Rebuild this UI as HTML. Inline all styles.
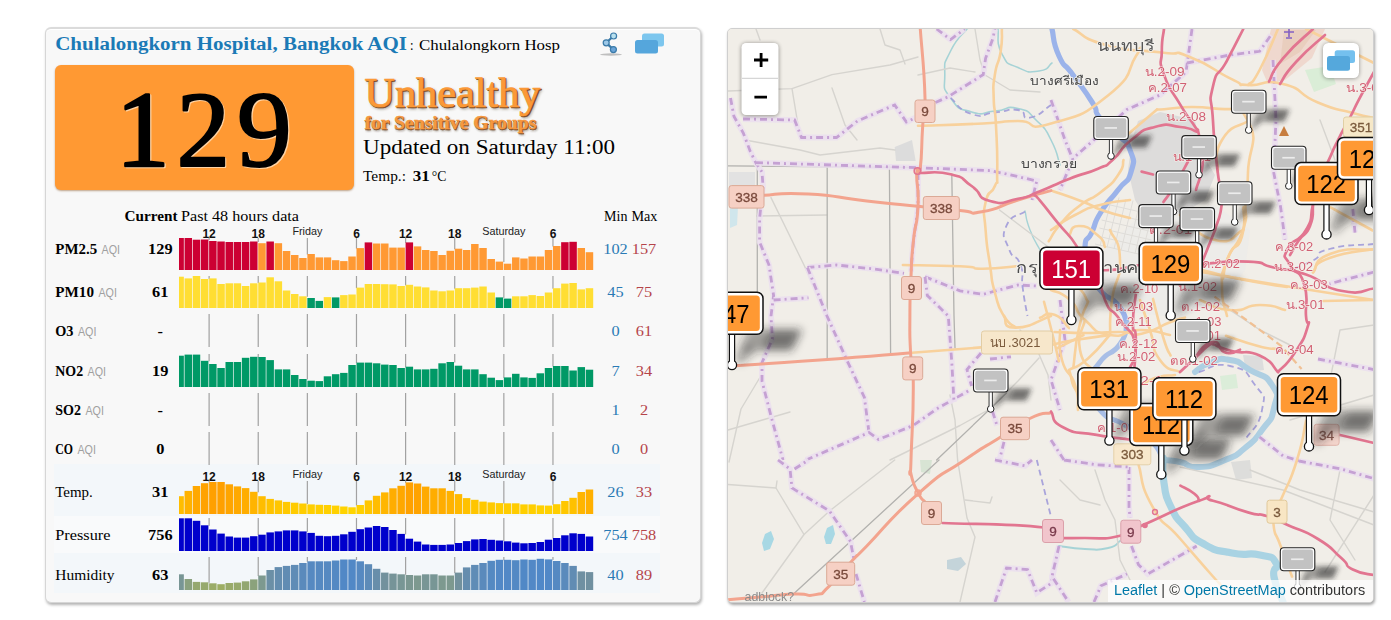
<!DOCTYPE html>
<html><head><meta charset="utf-8"><title>AQI</title>
<style>
html,body{margin:0;padding:0;background:#fff;}
body{width:1391px;height:620px;position:relative;overflow:hidden;font-family:"Liberation Serif",serif;color:#000;}
#panel{position:absolute;left:45px;top:27px;width:654px;height:573px;background:#f8f8f8;border:1px solid #d6d6d6;border-top:2px solid #dbdbdb;border-radius:6px;box-shadow:1px 2px 3px rgba(0,0,0,.3), inset 0 1px 0 #fff;}
#big{position:absolute;left:55px;top:65px;width:299px;height:125px;background:#ff9933;border-radius:6px;box-shadow:0 1px 2px rgba(120,60,0,.45);}
.stripe{position:absolute;left:54px;width:606px;}
.tnum{font-family:"Liberation Sans",sans-serif;font-size:12px;font-weight:bold;text-anchor:middle;fill:#111;}
.tday{font-family:"Liberation Sans",sans-serif;font-size:10.8px;text-anchor:middle;fill:#222;}
#map{position:absolute;left:727px;top:28px;width:644.5px;height:573px;border:1px solid #cfcfcf;border-radius:5px;overflow:hidden;background:#f1eee8;box-shadow:1px 2px 3px rgba(0,0,0,.35);}
</style></head><body>
<div id="panel"></div>
<div class="stripe" style="top:464px;height:52px;background:#f3f7fa"></div>
<div class="stripe" style="top:516px;height:37px;background:#f9fafb"></div>
<div class="stripe" style="top:553px;height:40px;background:#f3f7fa"></div>
<div id="big"></div>
<svg style="position:absolute;left:0;top:0" width="720" height="620" viewBox="0 0 720 620">
<defs><filter id="tb1" x="-5%" y="-30%" width="110%" height="160%"><feGaussianBlur stdDeviation="1.1"/></filter>
<filter id="tb2" x="-5%" y="-30%" width="110%" height="160%"><feGaussianBlur stdDeviation="1.4"/></filter></defs>
 <ellipse cx="611" cy="54.5" rx="11" ry="1.2" fill="#999" opacity=".6"/>
 <path d="M613.6 36 L606.2 42.8 L613.4 49.6" fill="none" stroke="#3a7aa8" stroke-width="2.2"/>
 <circle cx="613.6" cy="36" r="3" fill="#b8e0ee" stroke="#3a7aa8" stroke-width="1.2"/>
 <circle cx="606.2" cy="42.8" r="3" fill="#9cc8e8" stroke="#3a7aa8" stroke-width="1.2"/>
 <circle cx="613.4" cy="49.6" r="3" fill="#6aa4d8" stroke="#3a7aa8" stroke-width="1.2"/>
 <rect x="642" y="33.5" width="22" height="13" rx="2.5" fill="#7cc6ee"/>
 <rect x="635" y="40" width="23" height="13.5" rx="2.5" fill="#55a6dc"/>
<text transform="translate(144.1 167.3) scale(1.0 1)" text-anchor="middle" font-size="107.2" fill="#ffe2c0" stroke="#ffe2c0" stroke-width="2.6" stroke-linejoin="round" opacity="0.8" style="font-family:'Liberation Serif',serif">1</text><text transform="translate(204.4 167.3) scale(1.0 1)" text-anchor="middle" font-size="107.2" fill="#ffe2c0" stroke="#ffe2c0" stroke-width="2.0" stroke-linejoin="round" opacity="0.8" style="font-family:'Liberation Serif',serif">2</text><text transform="translate(265.6 167.3) scale(1.02 1)" text-anchor="middle" font-size="107.2" fill="#ffe2c0" stroke="#ffe2c0" stroke-width="2.0" stroke-linejoin="round" opacity="0.8" style="font-family:'Liberation Serif',serif">9</text><text transform="translate(142.9 166.2) scale(1.0 1)" text-anchor="middle" font-size="107.2" fill="#000" stroke="#000" stroke-width="2.6" stroke-linejoin="round" opacity="1" style="font-family:'Liberation Serif',serif">1</text><text transform="translate(203.2 166.2) scale(1.0 1)" text-anchor="middle" font-size="107.2" fill="#000" stroke="#000" stroke-width="2.0" stroke-linejoin="round" opacity="1" style="font-family:'Liberation Serif',serif">2</text><text transform="translate(264.4 166.2) scale(1.02 1)" text-anchor="middle" font-size="107.2" fill="#000" stroke="#000" stroke-width="2.0" stroke-linejoin="round" opacity="1" style="font-family:'Liberation Serif',serif">9</text>
<g font-family="Liberation Serif" font-size="41.2"><text x="366.3" y="109" textLength="176" lengthAdjust="spacingAndGlyphs" fill="#3a2a1a" opacity=".55" filter="url(#tb2)">Unhealthy</text><text x="365.6" y="108.1" textLength="176" lengthAdjust="spacingAndGlyphs" fill="#7c4c24" stroke="#7c4c24" stroke-width=".7">Unhealthy</text><text x="364.4" y="107" textLength="176" lengthAdjust="spacingAndGlyphs" fill="#fb9937" stroke="#fb9937" stroke-width=".7">Unhealthy</text></g><g font-family="Liberation Serif" font-size="18" font-weight="bold"><text x="365.8" y="130.6" textLength="172" lengthAdjust="spacingAndGlyphs" fill="#3a2a1a" opacity=".6" filter="url(#tb1)">for Sensitive Groups</text><text x="365.1" y="129.7" textLength="172" lengthAdjust="spacingAndGlyphs" fill="#7c4c26" opacity=".95" stroke="#7c4c26" stroke-width=".4">for Sensitive Groups</text><text x="364.4" y="129" textLength="172" lengthAdjust="spacingAndGlyphs" fill="#f5983f" stroke="#f5983f" stroke-width=".35">for Sensitive Groups</text></g>
<rect x="208.51" y="238" width="1.2" height="2.00" fill="#a2a2a2"/><rect x="257.63" y="238" width="1.2" height="4.00" fill="#a2a2a2"/><rect x="306.75" y="238" width="1.2" height="16.50" fill="#a2a2a2"/><rect x="355.88" y="238" width="1.2" height="10.60" fill="#a2a2a2"/><rect x="405.00" y="238" width="1.2" height="4.90" fill="#a2a2a2"/><rect x="454.12" y="238" width="1.2" height="11.20" fill="#a2a2a2"/><rect x="503.24" y="238" width="1.2" height="24.10" fill="#a2a2a2"/><rect x="552.36" y="238" width="1.2" height="8.50" fill="#a2a2a2"/><rect x="179.00" y="238.00" width="4.85" height="32.00" fill="#cc0033"/><rect x="184.55" y="238.00" width="7.49" height="32.00" fill="#cc0033"/><rect x="192.74" y="239.70" width="7.49" height="30.30" fill="#cc0033"/><rect x="200.92" y="239.50" width="7.49" height="30.50" fill="#cc0033"/><rect x="209.11" y="241.00" width="7.49" height="29.00" fill="#cc0033"/><rect x="217.30" y="241.50" width="7.49" height="28.50" fill="#cc0033"/><rect x="225.49" y="242.00" width="7.49" height="28.00" fill="#cc0033"/><rect x="233.67" y="242.00" width="7.49" height="28.00" fill="#cc0033"/><rect x="241.86" y="242.00" width="7.49" height="28.00" fill="#cc0033"/><rect x="250.05" y="241.50" width="7.49" height="28.50" fill="#cc0033"/><rect x="258.23" y="243.20" width="7.49" height="26.80" fill="#ff9933"/><rect x="266.42" y="241.50" width="7.49" height="28.50" fill="#cc0033"/><rect x="274.61" y="243.20" width="7.49" height="26.80" fill="#ff9933"/><rect x="282.79" y="251.00" width="7.49" height="19.00" fill="#ff9933"/><rect x="290.98" y="255.00" width="7.49" height="15.00" fill="#ff9933"/><rect x="299.17" y="258.00" width="7.49" height="12.00" fill="#ff9933"/><rect x="307.36" y="254.00" width="7.49" height="16.00" fill="#ff9933"/><rect x="315.54" y="257.40" width="7.49" height="12.60" fill="#ff9933"/><rect x="323.73" y="257.40" width="7.49" height="12.60" fill="#ff9933"/><rect x="331.92" y="260.20" width="7.49" height="9.80" fill="#ff9933"/><rect x="340.10" y="261.10" width="7.49" height="8.90" fill="#ff9933"/><rect x="348.29" y="256.50" width="7.49" height="13.50" fill="#ff9933"/><rect x="356.48" y="248.10" width="7.49" height="21.90" fill="#ff9933"/><rect x="364.66" y="242.40" width="7.49" height="27.60" fill="#cc0033"/><rect x="372.85" y="243.50" width="7.49" height="26.50" fill="#ff9933"/><rect x="381.04" y="243.50" width="7.49" height="26.50" fill="#ff9933"/><rect x="389.23" y="247.60" width="7.49" height="22.40" fill="#ff9933"/><rect x="397.41" y="247.60" width="7.49" height="22.40" fill="#ff9933"/><rect x="405.60" y="242.40" width="7.49" height="27.60" fill="#cc0033"/><rect x="413.79" y="246.40" width="7.49" height="23.60" fill="#ff9933"/><rect x="421.97" y="250.00" width="7.49" height="20.00" fill="#ff9933"/><rect x="430.16" y="251.00" width="7.49" height="19.00" fill="#ff9933"/><rect x="438.35" y="255.00" width="7.49" height="15.00" fill="#ff9933"/><rect x="446.53" y="250.80" width="7.49" height="19.20" fill="#ff9933"/><rect x="454.72" y="248.70" width="7.49" height="21.30" fill="#ff9933"/><rect x="462.91" y="250.00" width="7.49" height="20.00" fill="#ff9933"/><rect x="471.09" y="244.00" width="7.49" height="26.00" fill="#ff9933"/><rect x="479.28" y="248.00" width="7.49" height="22.00" fill="#ff9933"/><rect x="487.47" y="259.00" width="7.49" height="11.00" fill="#ff9933"/><rect x="495.66" y="261.60" width="7.49" height="8.40" fill="#ff9933"/><rect x="503.84" y="263.70" width="7.49" height="6.30" fill="#ff9933"/><rect x="512.03" y="257.40" width="7.49" height="12.60" fill="#ff9933"/><rect x="520.22" y="258.50" width="7.49" height="11.50" fill="#ff9933"/><rect x="528.40" y="256.50" width="7.49" height="13.50" fill="#ff9933"/><rect x="536.59" y="256.50" width="7.49" height="13.50" fill="#ff9933"/><rect x="544.78" y="250.00" width="7.49" height="20.00" fill="#ff9933"/><rect x="552.96" y="246.00" width="7.49" height="24.00" fill="#ff9933"/><rect x="561.15" y="242.20" width="7.49" height="27.80" fill="#cc0033"/><rect x="569.34" y="241.80" width="7.49" height="28.20" fill="#cc0033"/><rect x="577.53" y="248.00" width="7.49" height="22.00" fill="#ff9933"/><rect x="585.71" y="252.20" width="7.49" height="17.80" fill="#ff9933"/><rect x="208.51" y="276" width="1.2" height="2.90" fill="#a2a2a2"/><rect x="257.63" y="276" width="1.2" height="7.00" fill="#a2a2a2"/><rect x="306.75" y="276" width="1.2" height="20.80" fill="#a2a2a2"/><rect x="355.88" y="276" width="1.2" height="12.10" fill="#a2a2a2"/><rect x="405.00" y="276" width="1.2" height="9.30" fill="#a2a2a2"/><rect x="454.12" y="276" width="1.2" height="12.70" fill="#a2a2a2"/><rect x="503.24" y="276" width="1.2" height="21.90" fill="#a2a2a2"/><rect x="552.36" y="276" width="1.2" height="12.70" fill="#a2a2a2"/><rect x="179.00" y="276.70" width="4.85" height="31.30" fill="#ffde33"/><rect x="184.55" y="278.40" width="7.49" height="29.60" fill="#ffde33"/><rect x="192.74" y="276.00" width="7.49" height="32.00" fill="#ffde33"/><rect x="200.92" y="279.00" width="7.49" height="29.00" fill="#ffde33"/><rect x="209.11" y="278.40" width="7.49" height="29.60" fill="#ffde33"/><rect x="217.30" y="284.00" width="7.49" height="24.00" fill="#ffde33"/><rect x="225.49" y="283.30" width="7.49" height="24.70" fill="#ffde33"/><rect x="233.67" y="283.30" width="7.49" height="24.70" fill="#ffde33"/><rect x="241.86" y="286.00" width="7.49" height="22.00" fill="#ffde33"/><rect x="250.05" y="283.30" width="7.49" height="24.70" fill="#ffde33"/><rect x="258.23" y="282.50" width="7.49" height="25.50" fill="#ffde33"/><rect x="266.42" y="277.30" width="7.49" height="30.70" fill="#ffde33"/><rect x="274.61" y="281.30" width="7.49" height="26.70" fill="#ffde33"/><rect x="282.79" y="290.50" width="7.49" height="17.50" fill="#ffde33"/><rect x="290.98" y="294.00" width="7.49" height="14.00" fill="#ffde33"/><rect x="299.17" y="296.30" width="7.49" height="11.70" fill="#ffde33"/><rect x="307.36" y="298.00" width="7.49" height="10.00" fill="#009966"/><rect x="315.54" y="300.90" width="7.49" height="7.10" fill="#009966"/><rect x="323.73" y="297.10" width="7.49" height="10.90" fill="#ffde33"/><rect x="331.92" y="297.40" width="7.49" height="10.60" fill="#009966"/><rect x="340.10" y="295.10" width="7.49" height="12.90" fill="#ffde33"/><rect x="348.29" y="294.50" width="7.49" height="13.50" fill="#ffde33"/><rect x="356.48" y="287.60" width="7.49" height="20.40" fill="#ffde33"/><rect x="364.66" y="284.00" width="7.49" height="24.00" fill="#ffde33"/><rect x="372.85" y="284.00" width="7.49" height="24.00" fill="#ffde33"/><rect x="381.04" y="284.20" width="7.49" height="23.80" fill="#ffde33"/><rect x="389.23" y="284.40" width="7.49" height="23.60" fill="#ffde33"/><rect x="397.41" y="286.00" width="7.49" height="22.00" fill="#ffde33"/><rect x="405.60" y="284.80" width="7.49" height="23.20" fill="#ffde33"/><rect x="413.79" y="286.50" width="7.49" height="21.50" fill="#ffde33"/><rect x="421.97" y="287.40" width="7.49" height="20.60" fill="#ffde33"/><rect x="430.16" y="290.50" width="7.49" height="17.50" fill="#ffde33"/><rect x="438.35" y="291.30" width="7.49" height="16.70" fill="#ffde33"/><rect x="446.53" y="290.50" width="7.49" height="17.50" fill="#ffde33"/><rect x="454.72" y="288.20" width="7.49" height="19.80" fill="#ffde33"/><rect x="462.91" y="288.20" width="7.49" height="19.80" fill="#ffde33"/><rect x="471.09" y="287.60" width="7.49" height="20.40" fill="#ffde33"/><rect x="479.28" y="286.50" width="7.49" height="21.50" fill="#ffde33"/><rect x="487.47" y="292.50" width="7.49" height="15.50" fill="#ffde33"/><rect x="495.66" y="297.40" width="7.49" height="10.60" fill="#009966"/><rect x="503.84" y="298.60" width="7.49" height="9.40" fill="#009966"/><rect x="512.03" y="296.30" width="7.49" height="11.70" fill="#ffde33"/><rect x="520.22" y="296.30" width="7.49" height="11.70" fill="#ffde33"/><rect x="528.40" y="295.10" width="7.49" height="12.90" fill="#ffde33"/><rect x="536.59" y="296.00" width="7.49" height="12.00" fill="#ffde33"/><rect x="544.78" y="292.50" width="7.49" height="15.50" fill="#ffde33"/><rect x="552.96" y="288.20" width="7.49" height="19.80" fill="#ffde33"/><rect x="561.15" y="283.60" width="7.49" height="24.40" fill="#ffde33"/><rect x="569.34" y="283.00" width="7.49" height="25.00" fill="#ffde33"/><rect x="577.53" y="289.40" width="7.49" height="18.60" fill="#ffde33"/><rect x="585.71" y="288.20" width="7.49" height="19.80" fill="#ffde33"/><rect x="208.51" y="314" width="1.2" height="33.00" fill="#a2a2a2"/><rect x="257.63" y="314" width="1.2" height="33.00" fill="#a2a2a2"/><rect x="306.75" y="314" width="1.2" height="33.00" fill="#a2a2a2"/><rect x="355.88" y="314" width="1.2" height="33.00" fill="#a2a2a2"/><rect x="405.00" y="314" width="1.2" height="33.00" fill="#a2a2a2"/><rect x="454.12" y="314" width="1.2" height="33.00" fill="#a2a2a2"/><rect x="503.24" y="314" width="1.2" height="33.00" fill="#a2a2a2"/><rect x="552.36" y="314" width="1.2" height="33.00" fill="#a2a2a2"/><rect x="208.51" y="354" width="1.2" height="7.30" fill="#a2a2a2"/><rect x="257.63" y="354" width="1.2" height="3.30" fill="#a2a2a2"/><rect x="306.75" y="354" width="1.2" height="25.50" fill="#a2a2a2"/><rect x="355.88" y="354" width="1.2" height="9.10" fill="#a2a2a2"/><rect x="405.00" y="354" width="1.2" height="13.20" fill="#a2a2a2"/><rect x="454.12" y="354" width="1.2" height="8.50" fill="#a2a2a2"/><rect x="503.24" y="354" width="1.2" height="23.90" fill="#a2a2a2"/><rect x="552.36" y="354" width="1.2" height="12.50" fill="#a2a2a2"/><rect x="179.00" y="355.70" width="4.85" height="31.30" fill="#009966"/><rect x="184.55" y="354.60" width="7.49" height="32.40" fill="#009966"/><rect x="192.74" y="354.60" width="7.49" height="32.40" fill="#009966"/><rect x="200.92" y="360.80" width="7.49" height="26.20" fill="#009966"/><rect x="209.11" y="364.00" width="7.49" height="23.00" fill="#009966"/><rect x="217.30" y="368.00" width="7.49" height="19.00" fill="#009966"/><rect x="225.49" y="362.00" width="7.49" height="25.00" fill="#009966"/><rect x="233.67" y="362.00" width="7.49" height="25.00" fill="#009966"/><rect x="241.86" y="357.80" width="7.49" height="29.20" fill="#009966"/><rect x="250.05" y="356.80" width="7.49" height="30.20" fill="#009966"/><rect x="258.23" y="357.00" width="7.49" height="30.00" fill="#009966"/><rect x="266.42" y="360.10" width="7.49" height="26.90" fill="#009966"/><rect x="274.61" y="369.40" width="7.49" height="17.60" fill="#009966"/><rect x="282.79" y="369.40" width="7.49" height="17.60" fill="#009966"/><rect x="290.98" y="375.00" width="7.49" height="12.00" fill="#009966"/><rect x="299.17" y="379.00" width="7.49" height="8.00" fill="#009966"/><rect x="307.36" y="380.70" width="7.49" height="6.30" fill="#009966"/><rect x="315.54" y="381.10" width="7.49" height="5.90" fill="#009966"/><rect x="323.73" y="376.30" width="7.49" height="10.70" fill="#009966"/><rect x="331.92" y="374.20" width="7.49" height="12.80" fill="#009966"/><rect x="340.10" y="372.90" width="7.49" height="14.10" fill="#009966"/><rect x="348.29" y="365.00" width="7.49" height="22.00" fill="#009966"/><rect x="356.48" y="362.60" width="7.49" height="24.40" fill="#009966"/><rect x="364.66" y="362.60" width="7.49" height="24.40" fill="#009966"/><rect x="372.85" y="363.30" width="7.49" height="23.70" fill="#009966"/><rect x="381.04" y="364.60" width="7.49" height="22.40" fill="#009966"/><rect x="389.23" y="365.00" width="7.49" height="22.00" fill="#009966"/><rect x="397.41" y="368.00" width="7.49" height="19.00" fill="#009966"/><rect x="405.60" y="366.70" width="7.49" height="20.30" fill="#009966"/><rect x="413.79" y="369.40" width="7.49" height="17.60" fill="#009966"/><rect x="421.97" y="369.40" width="7.49" height="17.60" fill="#009966"/><rect x="430.16" y="368.80" width="7.49" height="18.20" fill="#009966"/><rect x="438.35" y="363.30" width="7.49" height="23.70" fill="#009966"/><rect x="446.53" y="362.00" width="7.49" height="25.00" fill="#009966"/><rect x="454.72" y="365.70" width="7.49" height="21.30" fill="#009966"/><rect x="462.91" y="369.40" width="7.49" height="17.60" fill="#009966"/><rect x="471.09" y="369.40" width="7.49" height="17.60" fill="#009966"/><rect x="479.28" y="374.20" width="7.49" height="12.80" fill="#009966"/><rect x="487.47" y="377.70" width="7.49" height="9.30" fill="#009966"/><rect x="495.66" y="380.10" width="7.49" height="6.90" fill="#009966"/><rect x="503.84" y="377.40" width="7.49" height="9.60" fill="#009966"/><rect x="512.03" y="373.80" width="7.49" height="13.20" fill="#009966"/><rect x="520.22" y="377.40" width="7.49" height="9.60" fill="#009966"/><rect x="528.40" y="377.90" width="7.49" height="9.10" fill="#009966"/><rect x="536.59" y="373.30" width="7.49" height="13.70" fill="#009966"/><rect x="544.78" y="368.00" width="7.49" height="19.00" fill="#009966"/><rect x="552.96" y="366.00" width="7.49" height="21.00" fill="#009966"/><rect x="561.15" y="366.00" width="7.49" height="21.00" fill="#009966"/><rect x="569.34" y="370.50" width="7.49" height="16.50" fill="#009966"/><rect x="577.53" y="367.10" width="7.49" height="19.90" fill="#009966"/><rect x="585.71" y="369.70" width="7.49" height="17.30" fill="#009966"/><rect x="208.51" y="393" width="1.2" height="33.00" fill="#a2a2a2"/><rect x="257.63" y="393" width="1.2" height="33.00" fill="#a2a2a2"/><rect x="306.75" y="393" width="1.2" height="33.00" fill="#a2a2a2"/><rect x="355.88" y="393" width="1.2" height="33.00" fill="#a2a2a2"/><rect x="405.00" y="393" width="1.2" height="33.00" fill="#a2a2a2"/><rect x="454.12" y="393" width="1.2" height="33.00" fill="#a2a2a2"/><rect x="503.24" y="393" width="1.2" height="33.00" fill="#a2a2a2"/><rect x="552.36" y="393" width="1.2" height="33.00" fill="#a2a2a2"/><rect x="208.51" y="432" width="1.2" height="33.00" fill="#a2a2a2"/><rect x="257.63" y="432" width="1.2" height="33.00" fill="#a2a2a2"/><rect x="306.75" y="432" width="1.2" height="33.00" fill="#a2a2a2"/><rect x="355.88" y="432" width="1.2" height="33.00" fill="#a2a2a2"/><rect x="405.00" y="432" width="1.2" height="33.00" fill="#a2a2a2"/><rect x="454.12" y="432" width="1.2" height="33.00" fill="#a2a2a2"/><rect x="503.24" y="432" width="1.2" height="33.00" fill="#a2a2a2"/><rect x="552.36" y="432" width="1.2" height="33.00" fill="#a2a2a2"/><rect x="208.51" y="481" width="1.2" height="1.50" fill="#a2a2a2"/><rect x="257.63" y="481" width="1.2" height="11.30" fill="#a2a2a2"/><rect x="306.75" y="481" width="1.2" height="23.00" fill="#a2a2a2"/><rect x="355.88" y="481" width="1.2" height="24.50" fill="#a2a2a2"/><rect x="405.00" y="481" width="1.2" height="1.90" fill="#a2a2a2"/><rect x="454.12" y="481" width="1.2" height="10.40" fill="#a2a2a2"/><rect x="503.24" y="481" width="1.2" height="22.60" fill="#a2a2a2"/><rect x="552.36" y="481" width="1.2" height="23.70" fill="#a2a2a2"/><rect x="179.00" y="496.20" width="4.85" height="17.80" fill="#ffbd00"/><rect x="184.55" y="490.90" width="7.49" height="23.10" fill="#ffb200"/><rect x="192.74" y="486.00" width="7.49" height="28.00" fill="#ffa800"/><rect x="200.92" y="483.20" width="7.49" height="30.80" fill="#ffa200"/><rect x="209.11" y="482.00" width="7.49" height="32.00" fill="#ffa000"/><rect x="217.30" y="482.00" width="7.49" height="32.00" fill="#ffa000"/><rect x="225.49" y="484.30" width="7.49" height="29.70" fill="#ffa500"/><rect x="233.67" y="486.40" width="7.49" height="27.60" fill="#ffa900"/><rect x="241.86" y="488.10" width="7.49" height="25.90" fill="#ffad00"/><rect x="250.05" y="491.80" width="7.49" height="22.20" fill="#ffb400"/><rect x="258.23" y="496.20" width="7.49" height="17.80" fill="#ffbd00"/><rect x="266.42" y="498.90" width="7.49" height="15.10" fill="#ffc300"/><rect x="274.61" y="500.40" width="7.49" height="13.60" fill="#ffc600"/><rect x="282.79" y="501.90" width="7.49" height="12.10" fill="#ffc900"/><rect x="290.98" y="502.70" width="7.49" height="11.30" fill="#ffcb00"/><rect x="299.17" y="503.50" width="7.49" height="10.50" fill="#ffcd00"/><rect x="307.36" y="504.40" width="7.49" height="9.60" fill="#ffcf00"/><rect x="315.54" y="504.80" width="7.49" height="9.20" fill="#ffcf00"/><rect x="323.73" y="505.00" width="7.49" height="9.00" fill="#ffd000"/><rect x="331.92" y="505.60" width="7.49" height="8.40" fill="#ffd100"/><rect x="340.10" y="506.50" width="7.49" height="7.50" fill="#ffd300"/><rect x="348.29" y="507.30" width="7.49" height="6.70" fill="#ffd500"/><rect x="356.48" y="505.00" width="7.49" height="9.00" fill="#ffd000"/><rect x="364.66" y="500.40" width="7.49" height="13.60" fill="#ffc600"/><rect x="372.85" y="495.80" width="7.49" height="18.20" fill="#ffbd00"/><rect x="381.04" y="492.40" width="7.49" height="21.60" fill="#ffb600"/><rect x="389.23" y="488.30" width="7.49" height="25.70" fill="#ffad00"/><rect x="397.41" y="485.80" width="7.49" height="28.20" fill="#ffa800"/><rect x="405.60" y="482.40" width="7.49" height="31.60" fill="#ffa100"/><rect x="413.79" y="483.50" width="7.49" height="30.50" fill="#ffa300"/><rect x="421.97" y="486.60" width="7.49" height="27.40" fill="#ffaa00"/><rect x="430.16" y="488.30" width="7.49" height="25.70" fill="#ffad00"/><rect x="438.35" y="488.30" width="7.49" height="25.70" fill="#ffad00"/><rect x="446.53" y="490.90" width="7.49" height="23.10" fill="#ffb200"/><rect x="454.72" y="494.10" width="7.49" height="19.90" fill="#ffb900"/><rect x="462.91" y="498.10" width="7.49" height="15.90" fill="#ffc100"/><rect x="471.09" y="499.80" width="7.49" height="14.20" fill="#ffc500"/><rect x="479.28" y="501.60" width="7.49" height="12.40" fill="#ffc900"/><rect x="487.47" y="502.40" width="7.49" height="11.60" fill="#ffca00"/><rect x="495.66" y="503.10" width="7.49" height="10.90" fill="#ffcc00"/><rect x="503.84" y="503.30" width="7.49" height="10.70" fill="#ffcc00"/><rect x="512.03" y="503.30" width="7.49" height="10.70" fill="#ffcc00"/><rect x="520.22" y="504.40" width="7.49" height="9.60" fill="#ffcf00"/><rect x="528.40" y="504.40" width="7.49" height="9.60" fill="#ffcf00"/><rect x="536.59" y="505.40" width="7.49" height="8.60" fill="#ffd100"/><rect x="544.78" y="505.60" width="7.49" height="8.40" fill="#ffd100"/><rect x="552.96" y="504.20" width="7.49" height="9.80" fill="#ffce00"/><rect x="561.15" y="501.00" width="7.49" height="13.00" fill="#ffc700"/><rect x="569.34" y="497.80" width="7.49" height="16.20" fill="#ffc100"/><rect x="577.53" y="492.00" width="7.49" height="22.00" fill="#ffb500"/><rect x="585.71" y="489.50" width="7.49" height="24.50" fill="#ffb000"/><rect x="208.51" y="518" width="1.2" height="7.80" fill="#a2a2a2"/><rect x="257.63" y="518" width="1.2" height="17.20" fill="#a2a2a2"/><rect x="306.75" y="518" width="1.2" height="13.90" fill="#a2a2a2"/><rect x="355.88" y="518" width="1.2" height="11.70" fill="#a2a2a2"/><rect x="405.00" y="518" width="1.2" height="16.40" fill="#a2a2a2"/><rect x="454.12" y="518" width="1.2" height="25.50" fill="#a2a2a2"/><rect x="503.24" y="518" width="1.2" height="23.00" fill="#a2a2a2"/><rect x="552.36" y="518" width="1.2" height="20.50" fill="#a2a2a2"/><rect x="179.00" y="518.30" width="4.85" height="32.70" fill="#0000cc"/><rect x="184.55" y="518.30" width="7.49" height="32.70" fill="#0000cc"/><rect x="192.74" y="520.80" width="7.49" height="30.20" fill="#0000cc"/><rect x="200.92" y="525.30" width="7.49" height="25.70" fill="#0000cc"/><rect x="209.11" y="529.50" width="7.49" height="21.50" fill="#0000cc"/><rect x="217.30" y="533.60" width="7.49" height="17.40" fill="#0000cc"/><rect x="225.49" y="536.50" width="7.49" height="14.50" fill="#0000cc"/><rect x="233.67" y="537.60" width="7.49" height="13.40" fill="#0000cc"/><rect x="241.86" y="537.60" width="7.49" height="13.40" fill="#0000cc"/><rect x="250.05" y="536.20" width="7.49" height="14.80" fill="#0000cc"/><rect x="258.23" y="534.70" width="7.49" height="16.30" fill="#0000cc"/><rect x="266.42" y="532.40" width="7.49" height="18.60" fill="#0000cc"/><rect x="274.61" y="531.40" width="7.49" height="19.60" fill="#0000cc"/><rect x="282.79" y="530.40" width="7.49" height="20.60" fill="#0000cc"/><rect x="290.98" y="530.40" width="7.49" height="20.60" fill="#0000cc"/><rect x="299.17" y="531.40" width="7.49" height="19.60" fill="#0000cc"/><rect x="307.36" y="532.90" width="7.49" height="18.10" fill="#0000cc"/><rect x="315.54" y="535.80" width="7.49" height="15.20" fill="#0000cc"/><rect x="323.73" y="536.20" width="7.49" height="14.80" fill="#0000cc"/><rect x="331.92" y="535.80" width="7.49" height="15.20" fill="#0000cc"/><rect x="340.10" y="534.30" width="7.49" height="16.70" fill="#0000cc"/><rect x="348.29" y="531.80" width="7.49" height="19.20" fill="#0000cc"/><rect x="356.48" y="529.20" width="7.49" height="21.80" fill="#0000cc"/><rect x="364.66" y="527.50" width="7.49" height="23.50" fill="#0000cc"/><rect x="372.85" y="526.00" width="7.49" height="25.00" fill="#0000cc"/><rect x="381.04" y="527.00" width="7.49" height="24.00" fill="#0000cc"/><rect x="389.23" y="530.00" width="7.49" height="21.00" fill="#0000cc"/><rect x="397.41" y="533.90" width="7.49" height="17.10" fill="#0000cc"/><rect x="405.60" y="538.70" width="7.49" height="12.30" fill="#0000cc"/><rect x="413.79" y="541.60" width="7.49" height="9.40" fill="#0000cc"/><rect x="421.97" y="544.50" width="7.49" height="6.50" fill="#0000cc"/><rect x="430.16" y="544.90" width="7.49" height="6.10" fill="#0000cc"/><rect x="438.35" y="544.90" width="7.49" height="6.10" fill="#0000cc"/><rect x="446.53" y="544.50" width="7.49" height="6.50" fill="#0000cc"/><rect x="454.72" y="543.00" width="7.49" height="8.00" fill="#0000cc"/><rect x="462.91" y="541.10" width="7.49" height="9.90" fill="#0000cc"/><rect x="471.09" y="539.40" width="7.49" height="11.60" fill="#0000cc"/><rect x="479.28" y="539.00" width="7.49" height="12.00" fill="#0000cc"/><rect x="487.47" y="539.80" width="7.49" height="11.20" fill="#0000cc"/><rect x="495.66" y="540.50" width="7.49" height="10.50" fill="#0000cc"/><rect x="503.84" y="541.30" width="7.49" height="9.70" fill="#0000cc"/><rect x="512.03" y="542.60" width="7.49" height="8.40" fill="#0000cc"/><rect x="520.22" y="543.30" width="7.49" height="7.70" fill="#0000cc"/><rect x="528.40" y="543.00" width="7.49" height="8.00" fill="#0000cc"/><rect x="536.59" y="542.00" width="7.49" height="9.00" fill="#0000cc"/><rect x="544.78" y="539.70" width="7.49" height="11.30" fill="#0000cc"/><rect x="552.96" y="538.00" width="7.49" height="13.00" fill="#0000cc"/><rect x="561.15" y="535.30" width="7.49" height="15.70" fill="#0000cc"/><rect x="569.34" y="533.30" width="7.49" height="17.70" fill="#0000cc"/><rect x="577.53" y="533.90" width="7.49" height="17.10" fill="#0000cc"/><rect x="585.71" y="536.50" width="7.49" height="14.50" fill="#0000cc"/><rect x="208.51" y="557" width="1.2" height="25.80" fill="#a2a2a2"/><rect x="257.63" y="557" width="1.2" height="19.00" fill="#a2a2a2"/><rect x="306.75" y="557" width="1.2" height="4.80" fill="#a2a2a2"/><rect x="355.88" y="557" width="1.2" height="3.00" fill="#a2a2a2"/><rect x="405.00" y="557" width="1.2" height="17.80" fill="#a2a2a2"/><rect x="454.12" y="557" width="1.2" height="16.10" fill="#a2a2a2"/><rect x="503.24" y="557" width="1.2" height="3.30" fill="#a2a2a2"/><rect x="552.36" y="557" width="1.2" height="2.90" fill="#a2a2a2"/><rect x="179.00" y="574.30" width="4.85" height="15.70" fill="#789695"/><rect x="184.55" y="579.00" width="7.49" height="11.00" fill="#8aa17e"/><rect x="192.74" y="581.90" width="7.49" height="8.10" fill="#95a86f"/><rect x="200.92" y="582.30" width="7.49" height="7.70" fill="#96a96d"/><rect x="209.11" y="583.30" width="7.49" height="6.70" fill="#9aac68"/><rect x="217.30" y="584.20" width="7.49" height="5.80" fill="#9dae64"/><rect x="225.49" y="583.00" width="7.49" height="7.00" fill="#99ab6a"/><rect x="233.67" y="582.60" width="7.49" height="7.40" fill="#97aa6c"/><rect x="241.86" y="581.30" width="7.49" height="8.70" fill="#92a772"/><rect x="250.05" y="579.40" width="7.49" height="10.60" fill="#8ba27c"/><rect x="258.23" y="575.50" width="7.49" height="14.50" fill="#7d998f"/><rect x="266.42" y="570.00" width="7.49" height="20.00" fill="#6b8fa6"/><rect x="274.61" y="567.10" width="7.49" height="22.90" fill="#648daf"/><rect x="282.79" y="565.90" width="7.49" height="24.10" fill="#618cb3"/><rect x="290.98" y="564.90" width="7.49" height="25.10" fill="#5f8cb6"/><rect x="299.17" y="563.00" width="7.49" height="27.00" fill="#5a8abc"/><rect x="307.36" y="561.30" width="7.49" height="28.70" fill="#5689c1"/><rect x="315.54" y="561.30" width="7.49" height="28.70" fill="#5689c1"/><rect x="323.73" y="561.30" width="7.49" height="28.70" fill="#5689c1"/><rect x="331.92" y="560.50" width="7.49" height="29.50" fill="#5489c3"/><rect x="340.10" y="559.50" width="7.49" height="30.50" fill="#5188c6"/><rect x="348.29" y="559.50" width="7.49" height="30.50" fill="#5188c6"/><rect x="356.48" y="561.30" width="7.49" height="28.70" fill="#5689c1"/><rect x="364.66" y="564.20" width="7.49" height="25.80" fill="#5d8bb8"/><rect x="372.85" y="568.80" width="7.49" height="21.20" fill="#688eaa"/><rect x="381.04" y="572.60" width="7.49" height="17.40" fill="#72919d"/><rect x="389.23" y="573.60" width="7.49" height="16.40" fill="#769498"/><rect x="397.41" y="574.30" width="7.49" height="15.70" fill="#789695"/><rect x="405.60" y="575.00" width="7.49" height="15.00" fill="#7b9791"/><rect x="413.79" y="575.50" width="7.49" height="14.50" fill="#7d998f"/><rect x="421.97" y="574.30" width="7.49" height="15.70" fill="#789695"/><rect x="430.16" y="574.30" width="7.49" height="15.70" fill="#789695"/><rect x="438.35" y="575.50" width="7.49" height="14.50" fill="#7d998f"/><rect x="446.53" y="575.50" width="7.49" height="14.50" fill="#7d998f"/><rect x="454.72" y="572.60" width="7.49" height="17.40" fill="#72919d"/><rect x="462.91" y="567.40" width="7.49" height="22.60" fill="#658dae"/><rect x="471.09" y="564.90" width="7.49" height="25.10" fill="#5f8cb6"/><rect x="479.28" y="563.00" width="7.49" height="27.00" fill="#5a8abc"/><rect x="487.47" y="560.80" width="7.49" height="29.20" fill="#5489c2"/><rect x="495.66" y="559.80" width="7.49" height="30.20" fill="#5288c6"/><rect x="503.84" y="559.80" width="7.49" height="30.20" fill="#5288c6"/><rect x="512.03" y="560.20" width="7.49" height="29.80" fill="#5389c4"/><rect x="520.22" y="559.50" width="7.49" height="30.50" fill="#5188c6"/><rect x="528.40" y="559.80" width="7.49" height="30.20" fill="#5288c6"/><rect x="536.59" y="558.80" width="7.49" height="31.20" fill="#5088c8"/><rect x="544.78" y="559.40" width="7.49" height="30.60" fill="#5188c7"/><rect x="552.96" y="561.00" width="7.49" height="29.00" fill="#5589c2"/><rect x="561.15" y="563.00" width="7.49" height="27.00" fill="#5a8abc"/><rect x="569.34" y="565.90" width="7.49" height="24.10" fill="#618cb3"/><rect x="577.53" y="571.40" width="7.49" height="18.60" fill="#6f90a2"/><rect x="585.71" y="572.10" width="7.49" height="17.90" fill="#7090a0"/>
<text x="209.1" y="237.5" class="tnum">12</text><text x="258.2" y="237.5" class="tnum">18</text><text x="307.4" y="235.0" class="tday">Friday</text><text x="356.5" y="237.5" class="tnum">6</text><text x="405.6" y="237.5" class="tnum">12</text><text x="454.7" y="237.5" class="tnum">18</text><text x="503.8" y="235.0" class="tday">Saturday</text><text x="553.0" y="237.5" class="tnum">6</text><text x="209.1" y="480.5" class="tnum">12</text><text x="258.2" y="480.5" class="tnum">18</text><text x="307.4" y="478.0" class="tday">Friday</text><text x="356.5" y="480.5" class="tnum">6</text><text x="405.6" y="480.5" class="tnum">12</text><text x="454.7" y="480.5" class="tnum">18</text><text x="503.8" y="478.0" class="tday">Saturday</text><text x="553.0" y="480.5" class="tnum">6</text>
<text x="55.3" y="253.8" textLength="41.8" lengthAdjust="spacingAndGlyphs" font-family="Liberation Serif" font-size="14.2" font-weight="bold" fill="#000" >PM2.5</text><text x="101.5" y="253.8" textLength="18.5" lengthAdjust="spacingAndGlyphs" font-family="Liberation Sans" font-size="12.6" font-weight="normal" fill="#a0a0a0" >AQI</text><text transform="translate(160.3 253.8) scale(1.12 1)" text-anchor="middle" font-family="Liberation Serif" font-size="14.6" font-weight="bold" fill="#000">129</text><text transform="translate(615.5 253.8) scale(1.12 1)" text-anchor="middle" font-family="Liberation Serif" font-size="14.6" font-weight="normal" fill="#2a7ab5">102</text><text transform="translate(644.0 253.8) scale(1.12 1)" text-anchor="middle" font-family="Liberation Serif" font-size="14.6" font-weight="normal" fill="#b5444a">157</text><text x="55.3" y="296.9" textLength="38.7" lengthAdjust="spacingAndGlyphs" font-family="Liberation Serif" font-size="14.2" font-weight="bold" fill="#000" >PM10</text><text x="98.4" y="296.9" textLength="18.5" lengthAdjust="spacingAndGlyphs" font-family="Liberation Sans" font-size="12.6" font-weight="normal" fill="#a0a0a0" >AQI</text><text transform="translate(160.3 296.9) scale(1.12 1)" text-anchor="middle" font-family="Liberation Serif" font-size="14.6" font-weight="bold" fill="#000">61</text><text transform="translate(615.5 296.9) scale(1.12 1)" text-anchor="middle" font-family="Liberation Serif" font-size="14.6" font-weight="normal" fill="#2a7ab5">45</text><text transform="translate(644.0 296.9) scale(1.12 1)" text-anchor="middle" font-family="Liberation Serif" font-size="14.6" font-weight="normal" fill="#b5444a">75</text><text x="55.3" y="335.7" textLength="18.2" lengthAdjust="spacingAndGlyphs" font-family="Liberation Serif" font-size="14.2" font-weight="bold" fill="#000" >O3</text><text x="77.9" y="335.7" textLength="18.5" lengthAdjust="spacingAndGlyphs" font-family="Liberation Sans" font-size="12.6" font-weight="normal" fill="#a0a0a0" >AQI</text><text transform="translate(160.3 335.7) scale(1.12 1)" text-anchor="middle" font-family="Liberation Serif" font-size="14.6" font-weight="bold" fill="#000">-</text><text transform="translate(615.5 335.7) scale(1.12 1)" text-anchor="middle" font-family="Liberation Serif" font-size="14.6" font-weight="normal" fill="#2a7ab5">0</text><text transform="translate(644.0 335.7) scale(1.12 1)" text-anchor="middle" font-family="Liberation Serif" font-size="14.6" font-weight="normal" fill="#b5444a">61</text><text x="55.3" y="375.7" textLength="27.8" lengthAdjust="spacingAndGlyphs" font-family="Liberation Serif" font-size="14.2" font-weight="bold" fill="#000" >NO2</text><text x="87.5" y="375.7" textLength="18.5" lengthAdjust="spacingAndGlyphs" font-family="Liberation Sans" font-size="12.6" font-weight="normal" fill="#a0a0a0" >AQI</text><text transform="translate(160.3 375.7) scale(1.12 1)" text-anchor="middle" font-family="Liberation Serif" font-size="14.6" font-weight="bold" fill="#000">19</text><text transform="translate(615.5 375.7) scale(1.12 1)" text-anchor="middle" font-family="Liberation Serif" font-size="14.6" font-weight="normal" fill="#2a7ab5">7</text><text transform="translate(644.0 375.7) scale(1.12 1)" text-anchor="middle" font-family="Liberation Serif" font-size="14.6" font-weight="normal" fill="#b5444a">34</text><text x="55.3" y="414.8" textLength="25.7" lengthAdjust="spacingAndGlyphs" font-family="Liberation Serif" font-size="14.2" font-weight="bold" fill="#000" >SO2</text><text x="85.4" y="414.8" textLength="18.5" lengthAdjust="spacingAndGlyphs" font-family="Liberation Sans" font-size="12.6" font-weight="normal" fill="#a0a0a0" >AQI</text><text transform="translate(160.3 414.8) scale(1.12 1)" text-anchor="middle" font-family="Liberation Serif" font-size="14.6" font-weight="bold" fill="#000">-</text><text transform="translate(615.5 414.8) scale(1.12 1)" text-anchor="middle" font-family="Liberation Serif" font-size="14.6" font-weight="normal" fill="#2a7ab5">1</text><text transform="translate(644.0 414.8) scale(1.12 1)" text-anchor="middle" font-family="Liberation Serif" font-size="14.6" font-weight="normal" fill="#b5444a">2</text><text x="55.3" y="453.8" textLength="17.7" lengthAdjust="spacingAndGlyphs" font-family="Liberation Serif" font-size="14.2" font-weight="bold" fill="#000" >CO</text><text x="77.4" y="453.8" textLength="18.5" lengthAdjust="spacingAndGlyphs" font-family="Liberation Sans" font-size="12.6" font-weight="normal" fill="#a0a0a0" >AQI</text><text transform="translate(160.3 453.8) scale(1.12 1)" text-anchor="middle" font-family="Liberation Serif" font-size="14.6" font-weight="bold" fill="#000">0</text><text transform="translate(615.5 453.8) scale(1.12 1)" text-anchor="middle" font-family="Liberation Serif" font-size="14.6" font-weight="normal" fill="#2a7ab5">0</text><text transform="translate(644.0 453.8) scale(1.12 1)" text-anchor="middle" font-family="Liberation Serif" font-size="14.6" font-weight="normal" fill="#b5444a">0</text><text x="55.3" y="496.6" textLength="37.5" lengthAdjust="spacingAndGlyphs" font-family="Liberation Serif" font-size="14.2" font-weight="normal" fill="#000" >Temp.</text><text transform="translate(160.3 496.6) scale(1.12 1)" text-anchor="middle" font-family="Liberation Serif" font-size="14.6" font-weight="bold" fill="#000">31</text><text transform="translate(615.5 496.6) scale(1.12 1)" text-anchor="middle" font-family="Liberation Serif" font-size="14.6" font-weight="normal" fill="#2a7ab5">26</text><text transform="translate(644.0 496.6) scale(1.12 1)" text-anchor="middle" font-family="Liberation Serif" font-size="14.6" font-weight="normal" fill="#b5444a">33</text><text x="55.3" y="539.7" textLength="55.1" lengthAdjust="spacingAndGlyphs" font-family="Liberation Serif" font-size="14.2" font-weight="normal" fill="#000" >Pressure</text><text transform="translate(160.3 539.7) scale(1.12 1)" text-anchor="middle" font-family="Liberation Serif" font-size="14.6" font-weight="bold" fill="#000">756</text><text transform="translate(615.5 539.7) scale(1.12 1)" text-anchor="middle" font-family="Liberation Serif" font-size="14.6" font-weight="normal" fill="#2a7ab5">754</text><text transform="translate(644.0 539.7) scale(1.12 1)" text-anchor="middle" font-family="Liberation Serif" font-size="14.6" font-weight="normal" fill="#b5444a">758</text><text x="55.3" y="579.7" textLength="59.3" lengthAdjust="spacingAndGlyphs" font-family="Liberation Serif" font-size="14.2" font-weight="normal" fill="#000" >Humidity</text><text transform="translate(160.3 579.7) scale(1.12 1)" text-anchor="middle" font-family="Liberation Serif" font-size="14.6" font-weight="bold" fill="#000">63</text><text transform="translate(615.5 579.7) scale(1.12 1)" text-anchor="middle" font-family="Liberation Serif" font-size="14.6" font-weight="normal" fill="#2a7ab5">40</text><text transform="translate(644.0 579.7) scale(1.12 1)" text-anchor="middle" font-family="Liberation Serif" font-size="14.6" font-weight="normal" fill="#b5444a">89</text><text x="55.2" y="50.4" textLength="351.8" lengthAdjust="spacingAndGlyphs" font-family="Liberation Serif" font-size="19.3" font-weight="bold" fill="#1b7ab6" >Chulalongkorn Hospital, Bangkok AQI</text><text x="409.9" y="50.4" textLength="3.5" lengthAdjust="spacingAndGlyphs" font-family="Liberation Serif" font-size="14.6" font-weight="normal" fill="#000" >:</text><text x="419.0" y="50.4" textLength="141.0" lengthAdjust="spacingAndGlyphs" font-family="Liberation Serif" font-size="14.6" font-weight="normal" fill="#000" >Chulalongkorn Hosp</text><text x="124.6" y="220.8" textLength="52.9" lengthAdjust="spacingAndGlyphs" font-family="Liberation Serif" font-size="14" font-weight="bold" fill="#000" >Current</text><text x="181.0" y="220.8" textLength="118.0" lengthAdjust="spacingAndGlyphs" font-family="Liberation Serif" font-size="14" font-weight="normal" fill="#000" >Past 48 hours data</text><text x="604.0" y="220.7" textLength="23.4" lengthAdjust="spacingAndGlyphs" font-family="Liberation Serif" font-size="14" font-weight="normal" fill="#000" >Min</text><text x="631.4" y="220.7" textLength="26.0" lengthAdjust="spacingAndGlyphs" font-family="Liberation Serif" font-size="14" font-weight="normal" fill="#000" >Max</text><text x="363.0" y="154.1" textLength="252.0" lengthAdjust="spacingAndGlyphs" font-family="Liberation Serif" font-size="20" font-weight="normal" fill="#000" >Updated on Saturday 11:00</text><text x="363.0" y="180.8" textLength="43.0" lengthAdjust="spacingAndGlyphs" font-family="Liberation Serif" font-size="14" font-weight="normal" fill="#000" >Temp.:</text><text x="412.7" y="180.8" textLength="17.0" lengthAdjust="spacingAndGlyphs" font-family="Liberation Serif" font-size="14" font-weight="bold" fill="#000" >31</text><text x="431.8" y="180.8" textLength="14.6" lengthAdjust="spacingAndGlyphs" font-family="Liberation Serif" font-size="14" font-weight="normal" fill="#000" >&#176;C</text>
</svg>
<div id="map">
<svg style="position:absolute;left:-728px;top:-29px" width="1391" height="620" viewBox="0 0 1391 620"><style>.sh{font-family:"Liberation Sans",sans-serif;font-weight:normal}.rl{font-family:"Liberation Sans",sans-serif}.mk{font-family:"Liberation Sans",sans-serif}</style><rect x="727" y="28" width="648" height="576" fill="#f1eee8"/>
<g style="filter:blur(0.45px)">
<path d="M1138 121 L1160 112 L1195 120 L1200 150 L1215 175 L1205 200 L1180 215 L1150 225 L1135 200 L1128 170 L1132 140Z" fill="#dddcdb"/>
<path d="M1140 215 L1215 205 L1250 230 L1245 270 L1225 300 L1180 318 L1130 312 L1100 290 L1105 250 Z" fill="#ecebe8" opacity=".8"/>
<path d="M1112 196.0 L1100 246.0" stroke="#dedcd8" stroke-width="1" fill="none"/>
<path d="M1119 197.5 L1107 247.5" stroke="#dedcd8" stroke-width="1" fill="none"/>
<path d="M1126 199.0 L1114 249.0" stroke="#dedcd8" stroke-width="1" fill="none"/>
<path d="M1133 200.5 L1121 250.5" stroke="#dedcd8" stroke-width="1" fill="none"/>
<path d="M1140 202.0 L1128 252.0" stroke="#dedcd8" stroke-width="1" fill="none"/>
<path d="M1147 203.5 L1135 253.5" stroke="#dedcd8" stroke-width="1" fill="none"/>
<path d="M1154 205.0 L1142 255.0" stroke="#dedcd8" stroke-width="1" fill="none"/>
<path d="M1106.0 204 L1158.0 216" stroke="#dedcd8" stroke-width="1" fill="none"/>
<path d="M1103.8 212 L1155.8 224" stroke="#dedcd8" stroke-width="1" fill="none"/>
<path d="M1101.6 220 L1153.6 232" stroke="#dedcd8" stroke-width="1" fill="none"/>
<path d="M1099.4 228 L1151.4 240" stroke="#dedcd8" stroke-width="1" fill="none"/>
<path d="M1097.2 236 L1149.2 248" stroke="#dedcd8" stroke-width="1" fill="none"/>
<path d="M1095.0 244 L1147.0 256" stroke="#dedcd8" stroke-width="1" fill="none"/>
<path d="M1271 29 L1325 29 L1312 58 L1285 80 L1268 84 L1262 70 Z" fill="#efd3c9" opacity=".85"/>
<path d="M1284 30 L1316 30 L1300 52 L1280 64 Z" fill="#e6c9b8" opacity=".7"/>
<path d="M1305 70 L1330 66 L1336 84 L1314 92 Z" fill="#d4ecd2" opacity=".8"/>
<path d="M1243 355 L1262 356 L1264 370 L1246 372 Z" fill="#dcdcdc"/>
<path d="M1220 376 L1236 374 L1238 388 L1222 390 Z" fill="#d6ecd4" opacity=".8"/>
<path d="M1231 462 L1250 460 L1252 478 L1236 480 Z" fill="#dddddb"/>
<path d="M894.7 147 L912 140 L915.7 161 L896 161 Z" fill="#dcdcdc"/>
<path d="M920 460 L932 460 L930 474 L921 472 Z" fill="#d8e4d4"/>
<rect x="729" y="172" width="26" height="14" fill="#e2e2e2"/>
<path d="M765 534 l6 -3 l3 8 l-4 10 l-6 2 l-2 -8z" fill="#a8d8e4"/>
<path d="M827 528 l6 -3 l2 9 l-4 10 l-5 0 l-2 -7z" fill="#a8d8e4"/>
<path d="M947 560 l14 -3 l5 7 l-8 7 l-11 -2z" fill="#c4d4da"/>
<path d="M730 205 l8 2 l-1 18 l-7 3z" fill="#c8e4ec" opacity=".8"/>
<path d="M1052.0 29.0 C1054.3 38.0 1052.0 40.7 1059.0 56.0 C1066.0 71.3 1062.0 59.7 1073.0 75.0 C1084.0 90.3 1083.0 87.7 1092.0 102.0 C1101.0 116.3 1091.3 107.0 1100.0 118.0 C1108.7 129.0 1108.0 124.3 1118.0 135.0 C1128.0 145.7 1125.7 137.7 1130.0 150.0 C1134.3 162.3 1135.0 158.7 1131.0 172.0 C1127.0 185.3 1128.0 176.7 1118.0 190.0 C1108.0 203.3 1109.7 198.0 1101.0 212.0 C1092.3 226.0 1097.3 220.3 1092.0 232.0 C1086.7 243.7 1085.7 234.3 1085.0 247.0 C1084.3 259.7 1085.0 255.7 1090.0 270.0 C1095.0 284.3 1090.7 278.3 1100.0 290.0 C1109.3 301.7 1109.0 294.0 1118.0 305.0 C1127.0 316.0 1124.0 317.0 1127.0 323.0" fill="none" stroke="#9bb3ea" stroke-width="5.2" stroke-linecap="round" stroke-linejoin="round" opacity="1"/>
<path d="M1127.0 323.0 C1124.7 330.0 1129.0 331.0 1120.0 344.0 C1111.0 357.0 1110.0 348.3 1100.0 362.0 C1090.0 375.7 1090.0 369.0 1090.0 385.0 C1090.0 401.0 1088.3 396.7 1100.0 410.0 C1111.7 423.3 1108.3 415.0 1125.0 425.0 C1141.7 435.0 1137.3 428.3 1150.0 440.0 C1162.7 451.7 1158.7 453.3 1163.0 460.0" fill="none" stroke="#a8bee6" stroke-width="5" stroke-linecap="round" stroke-linejoin="round" opacity="1"/>
<path d="M1163.0 460.0 C1168.7 460.7 1168.0 459.7 1180.0 462.0 C1192.0 464.3 1184.0 467.7 1199.0 467.0 C1214.0 466.3 1209.7 466.3 1225.0 460.0 C1240.3 453.7 1232.7 458.0 1245.0 448.0 C1257.3 438.0 1252.3 443.3 1262.0 430.0 C1271.7 416.7 1270.7 423.0 1274.0 408.0 C1277.3 393.0 1280.0 397.7 1272.0 385.0 C1264.0 372.3 1264.0 378.3 1250.0 370.0 C1236.0 361.7 1243.3 362.3 1230.0 360.0 C1216.7 357.7 1221.7 359.0 1210.0 363.0 C1198.3 367.0 1200.0 369.0 1195.0 372.0" fill="none" stroke="#aecfe2" stroke-width="6" stroke-linecap="round" stroke-linejoin="round" opacity="1"/>
<path d="M1163.0 458.0 C1163.3 466.3 1161.3 466.7 1164.0 483.0 C1166.7 499.3 1164.0 492.3 1171.0 507.0 C1178.0 521.7 1174.0 514.7 1185.0 527.0 C1196.0 539.3 1188.3 535.3 1204.0 544.0 C1219.7 552.7 1213.3 549.3 1232.0 553.0 C1250.7 556.7 1245.3 551.7 1260.0 555.0 C1274.7 558.3 1271.3 555.7 1276.0 563.0 C1280.7 570.3 1271.7 564.0 1274.0 577.0 C1276.3 590.0 1280.0 593.7 1283.0 602.0" fill="none" stroke="#a9d3e3" stroke-width="7.2" stroke-linecap="round" stroke-linejoin="round" opacity="1"/>
<path d="M967.0 29.0 C961.5 36.3 958.0 35.7 950.6 51.0 C943.2 66.3 944.8 59.3 944.8 75.0 C944.8 90.7 941.7 85.7 950.6 98.0 C959.5 110.3 956.8 107.7 971.6 112.0 C986.4 116.3 979.5 112.2 995.0 111.0 C1010.5 109.8 1004.0 105.2 1018.0 108.5 C1032.0 111.8 1026.0 110.5 1037.0 121.0 C1048.0 131.5 1043.3 125.3 1051.0 140.0 C1058.7 154.7 1057.0 156.7 1060.0 165.0" fill="none" stroke="#a6d3d6" stroke-width="1.6" stroke-linecap="round" stroke-linejoin="round" opacity="1"/>
<path d="M998.0 29.0 C999.3 37.3 995.3 41.2 1002.0 54.0 C1008.7 66.8 1005.7 61.8 1018.0 67.5 C1030.3 73.2 1027.7 72.5 1039.0 71.0 C1050.3 69.5 1047.7 65.7 1052.0 63.0" fill="none" stroke="#a6d3d6" stroke-width="1.6" stroke-linecap="round" stroke-linejoin="round" opacity="1"/>
<path d="M1059.0 546.0 C1067.7 547.0 1068.7 548.3 1085.0 549.0 C1101.3 549.7 1096.3 550.7 1108.0 548.0 C1119.7 545.3 1116.0 543.3 1120.0 541.0" fill="none" stroke="#a6d3d6" stroke-width="2" stroke-linecap="round" stroke-linejoin="round" opacity="1"/>
<path d="M1025.0 211.0 C1026.7 217.3 1025.0 217.0 1030.0 230.0 C1035.0 243.0 1036.7 243.3 1040.0 250.0" fill="none" stroke="#a6d3d6" stroke-width="1.4" stroke-linecap="round" stroke-linejoin="round" opacity="1"/>
<path d="M728.0 91.0 L792.0 88.6 L832.0 74.6 L890.0 65.0 L918.0 57.0" fill="none" stroke="#d6d4cf" stroke-width="1.4" stroke-linecap="round" stroke-linejoin="round" />
<path d="M792.0 88.6 L800.0 137.0" fill="none" stroke="#d6d4cf" stroke-width="1.4" stroke-linecap="round" stroke-linejoin="round" />
<path d="M832.0 88.0 L845.0 125.0 L857.0 140.0" fill="none" stroke="#d6d4cf" stroke-width="1.4" stroke-linecap="round" stroke-linejoin="round" />
<path d="M760.0 40.0 L756.0 29.0" fill="none" stroke="#d6d4cf" stroke-width="1.4" stroke-linecap="round" stroke-linejoin="round" />
<path d="M880.0 29.0 L885.0 45.0 L900.0 50.0 L905.0 64.0" fill="none" stroke="#d6d4cf" stroke-width="1.4" stroke-linecap="round" stroke-linejoin="round" />
<path d="M745.0 140.0 L800.0 150.0 L820.0 155.0 L880.0 148.0 L895.0 150.0" fill="none" stroke="#d6d4cf" stroke-width="1.4" stroke-linecap="round" stroke-linejoin="round" />
<path d="M918.0 75.0 L950.0 68.0 L975.0 72.0" fill="none" stroke="#d6d4cf" stroke-width="1.4" stroke-linecap="round" stroke-linejoin="round" />
<path d="M975.0 29.0 L980.0 60.0 L985.0 75.0 L1010.0 90.0 L1040.0 92.0" fill="none" stroke="#d6d4cf" stroke-width="1.4" stroke-linecap="round" stroke-linejoin="round" />
<path d="M771.0 197.6 L804.0 265.0 L827.0 316.0" fill="none" stroke="#d6d4cf" stroke-width="1.4" stroke-linecap="round" stroke-linejoin="round" />
<path d="M757.0 216.0 L827.0 215.0" fill="none" stroke="#d6d4cf" stroke-width="1.4" stroke-linecap="round" stroke-linejoin="round" />
<path d="M729.0 462.0 L741.0 409.0 L762.0 374.0" fill="none" stroke="#d6d4cf" stroke-width="1.4" stroke-linecap="round" stroke-linejoin="round" />
<path d="M728.0 430.0 L790.0 412.0" fill="none" stroke="#d6d4cf" stroke-width="1.4" stroke-linecap="round" stroke-linejoin="round" />
<path d="M728.0 484.5 L776.0 488.0 L777.0 481.0" fill="none" stroke="#d6d4cf" stroke-width="1.4" stroke-linecap="round" stroke-linejoin="round" />
<path d="M776.0 488.0 L804.0 534.5" fill="none" stroke="#d6d4cf" stroke-width="1.4" stroke-linecap="round" stroke-linejoin="round" />
<path d="M894.7 460.0 L829.5 511.0 L804.0 534.5 L762.0 593.0" fill="none" stroke="#d6d4cf" stroke-width="1.4" stroke-linecap="round" stroke-linejoin="round" />
<path d="M890.0 460.0 L960.0 425.5 L990.0 409.0 L1018.0 381.0 L1039.0 358.0" fill="none" stroke="#d6d4cf" stroke-width="1.4" stroke-linecap="round" stroke-linejoin="round" />
<path d="M957.6 460.0 L967.0 518.0 L975.0 537.0 L960.0 602.0" fill="none" stroke="#d6d4cf" stroke-width="1.4" stroke-linecap="round" stroke-linejoin="round" />
<path d="M965.0 500.0 L990.0 503.0 L992.0 497.0" fill="none" stroke="#d6d4cf" stroke-width="1.4" stroke-linecap="round" stroke-linejoin="round" />
<path d="M950.0 395.0 L955.0 420.0 L957.6 460.0" fill="none" stroke="#d6d4cf" stroke-width="1.4" stroke-linecap="round" stroke-linejoin="round" />
<path d="M1180.0 467.0 L1283.0 490.0 L1374.0 525.0" fill="none" stroke="#d6d4cf" stroke-width="1.4" stroke-linecap="round" stroke-linejoin="round" />
<path d="M1250.0 470.0 L1300.0 490.0 L1374.0 512.0" fill="none" stroke="#d6d4cf" stroke-width="1.4" stroke-linecap="round" stroke-linejoin="round" />
<path d="M1374.0 495.0 L1325.0 572.0" fill="none" stroke="#d6d4cf" stroke-width="1.4" stroke-linecap="round" stroke-linejoin="round" />
<path d="M1340.0 470.0 L1330.0 520.0 L1355.0 560.0" fill="none" stroke="#d6d4cf" stroke-width="1.4" stroke-linecap="round" stroke-linejoin="round" />
<path d="M1095.0 470.0 L1105.0 500.0 L1115.0 520.0 L1120.0 560.0 L1130.0 580.0" fill="none" stroke="#d6d4cf" stroke-width="1.4" stroke-linecap="round" stroke-linejoin="round" />
<path d="M1060.0 480.0 L1080.0 500.0 L1100.0 505.0" fill="none" stroke="#d6d4cf" stroke-width="1.4" stroke-linecap="round" stroke-linejoin="round" />
<path d="M1020.0 330.0 L1035.0 345.0 L1048.0 375.0 L1051.0 400.0" fill="none" stroke="#d6d4cf" stroke-width="1.4" stroke-linecap="round" stroke-linejoin="round" />
<path d="M999.5 210.0 L1051.0 249.0 L1090.0 275.0" fill="none" stroke="#d6d4cf" stroke-width="1.4" stroke-linecap="round" stroke-linejoin="round" />
<path d="M1320.0 120.0 L1335.0 160.0" fill="none" stroke="#d6d4cf" stroke-width="1.4" stroke-linecap="round" stroke-linejoin="round" />
<path d="M1215.0 300.0 L1260.0 330.0 L1290.0 345.0" fill="none" stroke="#d6d4cf" stroke-width="1.4" stroke-linecap="round" stroke-linejoin="round" />
<path d="M1290.0 420.0 L1374.0 395.0" fill="none" stroke="#d6d4cf" stroke-width="1.4" stroke-linecap="round" stroke-linejoin="round" />
<path d="M1330.0 380.0 L1340.0 330.0 L1374.0 325.0" fill="none" stroke="#d6d4cf" stroke-width="1.4" stroke-linecap="round" stroke-linejoin="round" />
<path d="M728.0 165.9 L920.0 167.5" fill="none" stroke="#b2b1ae" stroke-width="1.3" stroke-linecap="round" stroke-linejoin="round" />
<path d="M757.3 166.0 L757.3 330.0" fill="none" stroke="#b2b1ae" stroke-width="1.3" stroke-linecap="round" stroke-linejoin="round" />
<path d="M827.2 166.0 L827.2 359.0" fill="none" stroke="#b2b1ae" stroke-width="1.3" stroke-linecap="round" stroke-linejoin="round" />
<path d="M889.4 166.0 L890.6 353.0" fill="none" stroke="#b2b1ae" stroke-width="1.3" stroke-linecap="round" stroke-linejoin="round" />
<path d="M951.8 174.0 L954.0 316.0 L955.0 348.0" fill="none" stroke="#b2b1ae" stroke-width="1.3" stroke-linecap="round" stroke-linejoin="round" />
<path d="M939.0 460.0 L850.5 541.5 L794.5 593.0" fill="none" stroke="#b2b1ae" stroke-width="1.3" stroke-linecap="round" stroke-linejoin="round" />
<path d="M936.6 460.0 L990.0 409.0 L1006.5 393.0" fill="none" stroke="#b2b1ae" stroke-width="1.3" stroke-linecap="round" stroke-linejoin="round" />
<path d="M730.5 98.0 L734.0 116.5 L743.3 133.0 L750.3 151.5 L756.0 163.0 L762.0 172.0 L763.0 186.0 L759.6 218.6 L759.6 242.0 L769.0 265.0 L773.6 295.5 L771.0 316.0 L772.4 339.0 L762.0 362.6 L762.0 381.0 L771.0 416.0 L783.0 460.0" fill="none" stroke="#ebdfee" stroke-width="5.8" stroke-linecap="butt" opacity=".9"/>
<path d="M730.5 98.0 L734.0 116.5 L743.3 133.0 L750.3 151.5 L756.0 163.0 L762.0 172.0 L763.0 186.0 L759.6 218.6 L759.6 242.0 L769.0 265.0 L773.6 295.5 L771.0 316.0 L772.4 339.0 L762.0 362.6 L762.0 381.0 L771.0 416.0 L783.0 460.0" fill="none" stroke="#c5a1d3" stroke-width="2.8" stroke-dasharray="7 4 2 4"/>
<path d="M743.0 119.0 L794.6 120.0 L801.5 137.5 L836.5 137.5 L857.4 121.0 L894.7 105.0 L906.4 122.0 L915.7 117.7" fill="none" stroke="#ebdfee" stroke-width="5.8" stroke-linecap="butt" opacity=".9"/>
<path d="M743.0 119.0 L794.6 120.0 L801.5 137.5 L836.5 137.5 L857.4 121.0 L894.7 105.0 L906.4 122.0 L915.7 117.7" fill="none" stroke="#c5a1d3" stroke-width="2.8" stroke-dasharray="7 4 2 4"/>
<path d="M935.5 102.5 L948.3 96.7 L983.2 74.6 L985.6 58.3 L992.5 39.6 L995.0 29.0" fill="none" stroke="#ebdfee" stroke-width="5.8" stroke-linecap="butt" opacity=".9"/>
<path d="M935.5 102.5 L948.3 96.7 L983.2 74.6 L985.6 58.3 L992.5 39.6 L995.0 29.0" fill="none" stroke="#c5a1d3" stroke-width="2.8" stroke-dasharray="7 4 2 4"/>
<path d="M936.6 29.0 L950.6 39.6 L964.6 29.0" fill="none" stroke="#ebdfee" stroke-width="5.8" stroke-linecap="butt" opacity=".9"/>
<path d="M936.6 29.0 L950.6 39.6 L964.6 29.0" fill="none" stroke="#c5a1d3" stroke-width="2.8" stroke-dasharray="7 4 2 4"/>
<path d="M756.0 162.6 L920.0 167.8 L990.0 170.6 L1006.5 174.0 L1036.8 181.0 L1032.0 200.0" fill="none" stroke="#ebdfee" stroke-width="5.8" stroke-linecap="butt" opacity=".9"/>
<path d="M756.0 162.6 L920.0 167.8 L990.0 170.6 L1006.5 174.0 L1036.8 181.0 L1032.0 200.0" fill="none" stroke="#c5a1d3" stroke-width="2.8" stroke-dasharray="7 4 2 4"/>
<path d="M773.6 300.0 L808.5 297.8" fill="none" stroke="#ebdfee" stroke-width="5.8" stroke-linecap="butt" opacity=".9"/>
<path d="M773.6 300.0 L808.5 297.8" fill="none" stroke="#c5a1d3" stroke-width="2.8" stroke-dasharray="7 4 2 4"/>
<path d="M918.0 173.0 L918.0 207.0 L913.3 242.0 L911.0 272.0" fill="none" stroke="#ebdfee" stroke-width="5.8" stroke-linecap="butt" opacity=".9"/>
<path d="M918.0 173.0 L918.0 207.0 L913.3 242.0 L911.0 272.0" fill="none" stroke="#c5a1d3" stroke-width="2.8" stroke-dasharray="7 4 2 4"/>
<path d="M807.4 267.5 L836.5 265.0 L871.4 268.7 L904.0 273.3" fill="none" stroke="#ebdfee" stroke-width="5.8" stroke-linecap="butt" opacity=".9"/>
<path d="M807.4 267.5 L836.5 265.0 L871.4 268.7 L904.0 273.3" fill="none" stroke="#c5a1d3" stroke-width="2.8" stroke-dasharray="7 4 2 4"/>
<path d="M807.4 267.5 L827.0 316.0 L848.0 362.6 L864.4 397.5 L869.0 432.5" fill="none" stroke="#ebdfee" stroke-width="5.8" stroke-linecap="butt" opacity=".9"/>
<path d="M807.4 267.5 L827.0 316.0 L848.0 362.6 L864.4 397.5 L869.0 432.5" fill="none" stroke="#c5a1d3" stroke-width="2.8" stroke-dasharray="7 4 2 4"/>
<path d="M806.0 460.0 L869.0 432.5 L878.4 439.5 L913.3 425.5 L936.6 409.0 L969.0 390.5" fill="none" stroke="#ebdfee" stroke-width="5.8" stroke-linecap="butt" opacity=".9"/>
<path d="M806.0 460.0 L869.0 432.5 L878.4 439.5 L913.3 425.5 L936.6 409.0 L969.0 390.5" fill="none" stroke="#c5a1d3" stroke-width="2.8" stroke-dasharray="7 4 2 4"/>
<path d="M925.0 276.8 L960.0 290.8 L983.0 294.3 L1018.0 285.0 L1036.8 286.0" fill="none" stroke="#ebdfee" stroke-width="5.8" stroke-linecap="butt" opacity=".9"/>
<path d="M925.0 276.8 L960.0 290.8 L983.0 294.3 L1018.0 285.0 L1036.8 286.0" fill="none" stroke="#c5a1d3" stroke-width="2.8" stroke-dasharray="7 4 2 4"/>
<path d="M925.0 276.8 L927.3 295.5 L948.3 316.0 L951.8 362.6 L954.0 402.0" fill="none" stroke="#ebdfee" stroke-width="5.8" stroke-linecap="butt" opacity=".9"/>
<path d="M925.0 276.8 L927.3 295.5 L948.3 316.0 L951.8 362.6 L954.0 402.0" fill="none" stroke="#c5a1d3" stroke-width="2.8" stroke-dasharray="7 4 2 4"/>
<path d="M981.0 353.0 L967.0 369.6 L971.6 386.0" fill="none" stroke="#ebdfee" stroke-width="5.8" stroke-linecap="butt" opacity=".9"/>
<path d="M981.0 353.0 L967.0 369.6 L971.6 386.0" fill="none" stroke="#c5a1d3" stroke-width="2.8" stroke-dasharray="7 4 2 4"/>
<path d="M992.5 411.5 L997.0 425.5" fill="none" stroke="#ebdfee" stroke-width="5.8" stroke-linecap="butt" opacity=".9"/>
<path d="M992.5 411.5 L997.0 425.5" fill="none" stroke="#c5a1d3" stroke-width="2.8" stroke-dasharray="7 4 2 4"/>
<path d="M1004.0 441.8 L999.5 460.0 L995.0 460.0" fill="none" stroke="#ebdfee" stroke-width="5.8" stroke-linecap="butt" opacity=".9"/>
<path d="M1004.0 441.8 L999.5 460.0 L995.0 460.0" fill="none" stroke="#c5a1d3" stroke-width="2.8" stroke-dasharray="7 4 2 4"/>
<path d="M990.0 359.0 L1011.0 356.8" fill="none" stroke="#ebdfee" stroke-width="5.8" stroke-linecap="butt" opacity=".9"/>
<path d="M990.0 359.0 L1011.0 356.8" fill="none" stroke="#c5a1d3" stroke-width="2.8" stroke-dasharray="7 4 2 4"/>
<path d="M778.0 460.0 L790.0 469.0 L792.0 488.0 L829.5 511.0 L850.5 541.5 L854.0 560.0" fill="none" stroke="#ebdfee" stroke-width="5.8" stroke-linecap="butt" opacity=".9"/>
<path d="M778.0 460.0 L790.0 469.0 L792.0 488.0 L829.5 511.0 L850.5 541.5 L854.0 560.0" fill="none" stroke="#c5a1d3" stroke-width="2.8" stroke-dasharray="7 4 2 4"/>
<path d="M856.0 574.0 L864.4 602.0" fill="none" stroke="#ebdfee" stroke-width="5.8" stroke-linecap="butt" opacity=".9"/>
<path d="M856.0 574.0 L864.4 602.0" fill="none" stroke="#c5a1d3" stroke-width="2.8" stroke-dasharray="7 4 2 4"/>
<path d="M794.5 469.0 L808.5 460.0" fill="none" stroke="#ebdfee" stroke-width="5.8" stroke-linecap="butt" opacity=".9"/>
<path d="M794.5 469.0 L808.5 460.0" fill="none" stroke="#c5a1d3" stroke-width="2.8" stroke-dasharray="7 4 2 4"/>
<path d="M995.0 602.0 L1006.5 568.0 L1027.5 569.5 L1036.8 592.8 L1051.0 583.5 L1059.0 546.0" fill="none" stroke="#ebdfee" stroke-width="5.8" stroke-linecap="butt" opacity=".9"/>
<path d="M995.0 602.0 L1006.5 568.0 L1027.5 569.5 L1036.8 592.8 L1051.0 583.5 L1059.0 546.0" fill="none" stroke="#c5a1d3" stroke-width="2.8" stroke-dasharray="7 4 2 4"/>
<path d="M995.0 460.0 L1025.0 465.8 L1032.0 460.0" fill="none" stroke="#ebdfee" stroke-width="5.8" stroke-linecap="butt" opacity=".9"/>
<path d="M995.0 460.0 L1025.0 465.8 L1032.0 460.0" fill="none" stroke="#c5a1d3" stroke-width="2.8" stroke-dasharray="7 4 2 4"/>
<path d="M1059.0 546.0 L1052.0 576.5 L1068.6 602.0" fill="none" stroke="#ebdfee" stroke-width="5.8" stroke-linecap="butt" opacity=".9"/>
<path d="M1059.0 546.0 L1052.0 576.5 L1068.6 602.0" fill="none" stroke="#c5a1d3" stroke-width="2.8" stroke-dasharray="7 4 2 4"/>
<path d="M1094.0 602.0 L1101.0 585.8 L1127.0 574.0" fill="none" stroke="#ebdfee" stroke-width="5.8" stroke-linecap="butt" opacity=".9"/>
<path d="M1094.0 602.0 L1101.0 585.8 L1127.0 574.0" fill="none" stroke="#c5a1d3" stroke-width="2.8" stroke-dasharray="7 4 2 4"/>
<path d="M1129.0 467.0 L1129.0 506.6 L1130.0 518.0" fill="none" stroke="#ebdfee" stroke-width="5.8" stroke-linecap="butt" opacity=".9"/>
<path d="M1129.0 467.0 L1129.0 506.6 L1130.0 518.0" fill="none" stroke="#c5a1d3" stroke-width="2.8" stroke-dasharray="7 4 2 4"/>
<path d="M1131.5 546.0 L1138.5 564.8 L1147.8 574.0 L1196.7 546.0" fill="none" stroke="#ebdfee" stroke-width="5.8" stroke-linecap="butt" opacity=".9"/>
<path d="M1131.5 546.0 L1138.5 564.8 L1147.8 574.0 L1196.7 546.0" fill="none" stroke="#c5a1d3" stroke-width="2.8" stroke-dasharray="7 4 2 4"/>
<path d="M1064.0 460.0 L1096.6 464.7 L1129.0 467.0" fill="none" stroke="#ebdfee" stroke-width="5.8" stroke-linecap="butt" opacity=".9"/>
<path d="M1064.0 460.0 L1096.6 464.7 L1129.0 467.0" fill="none" stroke="#c5a1d3" stroke-width="2.8" stroke-dasharray="7 4 2 4"/>
<path d="M1299.0 461.0 L1341.0 469.0 L1374.0 478.6" fill="none" stroke="#ebdfee" stroke-width="5.8" stroke-linecap="butt" opacity=".9"/>
<path d="M1299.0 461.0 L1341.0 469.0 L1374.0 478.6" fill="none" stroke="#c5a1d3" stroke-width="2.8" stroke-dasharray="7 4 2 4"/>
<path d="M1318.0 359.0 L1374.0 369.6" fill="none" stroke="#ebdfee" stroke-width="5.8" stroke-linecap="butt" opacity=".9"/>
<path d="M1318.0 359.0 L1374.0 369.6" fill="none" stroke="#c5a1d3" stroke-width="2.8" stroke-dasharray="7 4 2 4"/>
<path d="M1259.6 437.0 L1283.0 455.8 L1299.0 461.0" fill="none" stroke="#ebdfee" stroke-width="5.8" stroke-linecap="butt" opacity=".9"/>
<path d="M1259.6 437.0 L1283.0 455.8 L1299.0 461.0" fill="none" stroke="#c5a1d3" stroke-width="2.8" stroke-dasharray="7 4 2 4"/>
<path d="M1273.6 172.0 L1280.6 207.0 L1285.0 239.6" fill="none" stroke="#ebdfee" stroke-width="5.8" stroke-linecap="butt" opacity=".9"/>
<path d="M1273.6 172.0 L1280.6 207.0 L1285.0 239.6" fill="none" stroke="#c5a1d3" stroke-width="2.8" stroke-dasharray="7 4 2 4"/>
<path d="M1352.8 209.0 L1355.0 232.6" fill="none" stroke="#ebdfee" stroke-width="5.8" stroke-linecap="butt" opacity=".9"/>
<path d="M1352.8 209.0 L1355.0 232.6" fill="none" stroke="#c5a1d3" stroke-width="2.8" stroke-dasharray="7 4 2 4"/>
<path d="M1374.0 272.0 L1329.5 283.8" fill="none" stroke="#ebdfee" stroke-width="5.8" stroke-linecap="butt" opacity=".9"/>
<path d="M1374.0 272.0 L1329.5 283.8" fill="none" stroke="#c5a1d3" stroke-width="2.8" stroke-dasharray="7 4 2 4"/>
<path d="M1192.0 29.0 L1186.0 72.0 L1160.0 95.0 L1127.0 109.5 L1096.6 137.5 L1073.0 158.4 L1060.0 190.0" fill="none" stroke="#ebdfee" stroke-width="5.8" stroke-linecap="butt" opacity=".9"/>
<path d="M1192.0 29.0 L1186.0 72.0 L1160.0 95.0 L1127.0 109.5 L1096.6 137.5 L1073.0 158.4 L1060.0 190.0" fill="none" stroke="#c5a1d3" stroke-width="2.8" stroke-dasharray="7 4 2 4"/>
<path d="M1187.0 63.0 L1230.0 55.0 L1259.6 51.3 L1271.0 35.0" fill="none" stroke="#ebdfee" stroke-width="5.8" stroke-linecap="butt" opacity=".9"/>
<path d="M1187.0 63.0 L1230.0 55.0 L1259.6 51.3 L1271.0 35.0" fill="none" stroke="#c5a1d3" stroke-width="2.8" stroke-dasharray="7 4 2 4"/>
<path d="M1273.0 60.0 L1276.0 120.0 L1273.6 172.0" fill="none" stroke="#ebdfee" stroke-width="5.8" stroke-linecap="butt" opacity=".9"/>
<path d="M1273.0 60.0 L1276.0 120.0 L1273.6 172.0" fill="none" stroke="#c5a1d3" stroke-width="2.8" stroke-dasharray="7 4 2 4"/>
<path d="M1051.0 100.0 L1065.0 140.0 L1075.0 165.0" fill="none" stroke="#ebdfee" stroke-width="5.8" stroke-linecap="butt" opacity=".9"/>
<path d="M1051.0 100.0 L1065.0 140.0 L1075.0 165.0" fill="none" stroke="#c5a1d3" stroke-width="2.8" stroke-dasharray="7 4 2 4"/>
<path d="M1060.0 300.0 L1065.0 340.0 L1051.0 380.0 L1060.0 410.0" fill="none" stroke="#ebdfee" stroke-width="5.8" stroke-linecap="butt" opacity=".9"/>
<path d="M1060.0 300.0 L1065.0 340.0 L1051.0 380.0 L1060.0 410.0" fill="none" stroke="#c5a1d3" stroke-width="2.8" stroke-dasharray="7 4 2 4"/>
<path d="M1051.0 440.0 L1064.0 460.0" fill="none" stroke="#ebdfee" stroke-width="5.8" stroke-linecap="butt" opacity=".9"/>
<path d="M1051.0 440.0 L1064.0 460.0" fill="none" stroke="#c5a1d3" stroke-width="2.8" stroke-dasharray="7 4 2 4"/>
<path d="M950.6 97.9 C957.6 103.3 956.8 109.1 971.6 114.0 C986.4 118.9 979.5 113.8 995.0 112.5 C1010.5 111.2 1006.4 108.3 1018.0 110.0 C1029.6 111.7 1018.8 119.4 1029.8 117.7 C1040.8 116.0 1043.9 109.2 1051.0 104.9" fill="none" stroke="#9c96d8" stroke-width="1.8" stroke-dasharray="6 4" opacity=".85"/>
<path d="M1025.0 211.6 C1018.8 216.3 1011.9 213.2 1006.5 225.6 C1001.1 238.0 1004.2 235.8 1008.9 248.9 C1013.6 262.0 1015.9 251.8 1020.5 265.0 C1025.1 278.2 1020.5 271.5 1022.8 288.5 C1025.1 305.5 1025.9 306.8 1027.5 316.0" fill="none" stroke="#9c96d8" stroke-width="1.8" stroke-dasharray="6 4" opacity=".85"/>
<path d="M1036.8 460.0 L1050.8 516.0" fill="none" stroke="#9c96d8" stroke-width="1.8" stroke-dasharray="6 4" opacity=".85"/>
<path d="M1374.0 244.0 C1359.2 245.7 1349.8 243.5 1329.5 249.0 C1309.2 254.5 1326.2 253.5 1313.0 260.5 C1299.8 267.5 1297.7 266.8 1290.0 270.0" fill="none" stroke="#9c96d8" stroke-width="1.8" stroke-dasharray="6 4" opacity=".85"/>
<path d="M1199.0 372.0 C1209.3 370.0 1211.3 361.7 1230.0 366.0 C1248.7 370.3 1244.3 370.3 1255.0 385.0 C1265.7 399.7 1265.3 391.7 1262.0 410.0 C1258.7 428.3 1250.7 430.0 1245.0 440.0" fill="none" stroke="#9c96d8" stroke-width="1.8" stroke-dasharray="6 4" opacity=".85"/>
<path d="M918.0 125.8 C939.7 125.0 949.7 125.1 983.0 123.5 C1016.3 121.9 995.3 121.0 1018.0 121.0 C1040.7 121.0 1021.0 132.0 1051.0 123.5 C1081.0 115.0 1079.7 118.0 1108.0 95.5 C1136.3 73.0 1125.8 71.5 1136.0 56.0 C1146.2 40.5 1137.7 51.3 1138.5 49.0" fill="none" stroke="#f8d19c" stroke-width="2.6" stroke-linecap="round" stroke-linejoin="round" />
<path d="M1001.9 29.0 C1001.5 36.4 1003.0 36.1 1000.7 51.3 C998.4 66.5 997.2 59.1 994.9 74.6 C992.6 90.1 993.3 80.8 993.7 97.9 C994.1 115.0 994.8 101.1 996.0 125.8 C997.2 150.5 997.6 151.9 997.2 172.0 C996.8 192.1 998.8 175.9 994.9 186.0 C991.0 196.1 988.7 187.6 985.6 202.3 C982.5 217.0 984.1 209.1 985.6 230.0 C987.1 250.9 986.9 244.0 990.0 265.0 C993.1 286.0 990.3 276.0 995.0 293.0 C999.7 310.0 997.1 304.5 1004.0 316.0 C1010.9 327.5 1011.9 323.7 1015.8 327.6" fill="none" stroke="#f8d19c" stroke-width="2.6" stroke-linecap="round" stroke-linejoin="round" />
<path d="M902.9 265.0 C921.9 265.4 933.3 265.1 960.0 266.3 C986.7 267.5 964.4 268.7 983.0 268.7 C1001.6 268.7 1004.9 267.1 1015.8 266.3" fill="none" stroke="#f8d19c" stroke-width="2.6" stroke-linecap="round" stroke-linejoin="round" />
<path d="M908.7 353.0 L981.0 347.4" fill="none" stroke="#f8d19c" stroke-width="2.6" stroke-linecap="round" stroke-linejoin="round" />
<path d="M1004.0 316.0 C1007.9 319.9 1000.1 327.6 1015.8 327.6 C1031.5 327.6 1039.3 319.9 1051.0 316.0" fill="none" stroke="#f8d19c" stroke-width="2.6" stroke-linecap="round" stroke-linejoin="round" />
<path d="M1073.3 29.0 C1084.9 34.5 1078.5 37.7 1108.0 45.5 C1137.5 53.3 1134.5 48.7 1161.8 52.5 C1189.1 56.3 1166.5 48.1 1189.8 57.0 C1213.1 65.9 1212.3 69.9 1231.7 79.2 C1251.1 88.5 1230.9 83.4 1248.0 85.0 C1265.1 86.6 1259.7 78.2 1283.0 84.0 C1306.3 89.8 1294.6 92.8 1317.9 102.5 C1341.2 112.2 1334.1 107.8 1352.8 113.0 C1371.5 118.2 1366.9 116.3 1374.0 118.0" fill="none" stroke="#f8d19c" stroke-width="2.6" stroke-linecap="round" stroke-linejoin="round" />
<path d="M1157.0 109.5 C1175.7 109.1 1182.7 104.5 1213.0 108.4 C1243.3 112.3 1236.3 100.0 1248.0 121.2 C1259.7 142.4 1248.8 145.7 1248.0 172.0 C1247.2 198.3 1247.4 180.7 1245.7 200.0 C1244.0 219.3 1249.2 209.8 1243.0 230.0 C1236.8 250.2 1234.0 241.0 1227.0 260.5 C1220.0 280.0 1222.0 270.0 1222.0 288.5 C1222.0 307.0 1225.3 306.8 1227.0 316.0" fill="none" stroke="#f8d19c" stroke-width="2.6" stroke-linecap="round" stroke-linejoin="round" />
<path d="M1127.0 135.0 L1157.0 109.5" fill="none" stroke="#f8d19c" stroke-width="2.6" stroke-linecap="round" stroke-linejoin="round" />
<path d="M1278.0 29.0 C1271.9 42.7 1269.6 51.3 1259.6 70.0 C1249.6 88.7 1251.9 80.0 1248.0 85.0" fill="none" stroke="#f8d19c" stroke-width="2.6" stroke-linecap="round" stroke-linejoin="round" />
<path d="M1248.0 121.0 C1239.3 127.3 1232.1 123.0 1222.0 140.0 C1211.9 157.0 1219.1 161.3 1217.7 172.0" fill="none" stroke="#f8d19c" stroke-width="2.6" stroke-linecap="round" stroke-linejoin="round" />
<path d="M1306.0 29.0 L1374.0 63.0" fill="none" stroke="#f8d19c" stroke-width="2.6" stroke-linecap="round" stroke-linejoin="round" />
<path d="M1201.0 272.0 C1224.3 275.9 1213.3 274.5 1271.0 283.8 C1328.7 293.1 1339.7 294.6 1374.0 300.0" fill="none" stroke="#f8d19c" stroke-width="2.6" stroke-linecap="round" stroke-linejoin="round" />
<path d="M1374.0 249.0 C1359.2 252.0 1349.8 250.3 1329.5 258.0 C1309.2 265.7 1318.5 267.3 1313.0 272.0" fill="none" stroke="#f8d19c" stroke-width="2.6" stroke-linecap="round" stroke-linejoin="round" />
<path d="M1226.0 335.8 C1236.7 339.2 1241.5 341.6 1258.0 346.0 C1274.5 350.4 1269.7 347.9 1275.5 348.9" fill="none" stroke="#f8d19c" stroke-width="2.6" stroke-linecap="round" stroke-linejoin="round" />
<path d="M1323.4 301.0 L1372.7 300.0" fill="none" stroke="#f8d19c" stroke-width="2.6" stroke-linecap="round" stroke-linejoin="round" />
<path d="M1306.0 420.8 C1303.0 433.9 1304.7 435.3 1297.0 460.0 C1289.3 484.7 1289.7 479.5 1283.0 495.0 C1276.3 510.5 1280.1 496.6 1277.0 506.6 C1273.9 516.6 1272.4 511.9 1273.6 525.0 C1274.8 538.1 1274.5 528.8 1280.6 546.0 C1286.7 563.2 1288.2 566.3 1292.0 576.5" fill="none" stroke="#f8d19c" stroke-width="2.6" stroke-linecap="round" stroke-linejoin="round" />
<path d="M1138.5 464.7 C1143.2 478.7 1138.5 481.8 1152.5 506.6 C1166.5 531.4 1160.2 515.7 1180.4 539.0 C1200.6 562.3 1199.8 561.7 1213.0 576.5 C1226.2 591.3 1217.7 581.2 1220.0 583.5" fill="none" stroke="#f8d19c" stroke-width="2.6" stroke-linecap="round" stroke-linejoin="round" />
<path d="M1051.0 230.0 C1059.0 225.0 1058.7 223.3 1075.0 215.0 C1091.3 206.7 1081.7 210.0 1100.0 205.0 C1118.3 200.0 1120.0 201.7 1130.0 200.0" fill="none" stroke="#f8d19c" stroke-width="2.6" stroke-linecap="round" stroke-linejoin="round" />
<path d="M1051.0 290.0 C1057.3 293.3 1058.7 290.0 1070.0 300.0 C1081.3 310.0 1071.7 308.3 1085.0 320.0 C1098.3 331.7 1091.7 331.7 1110.0 335.0 C1128.3 338.3 1120.0 330.0 1140.0 330.0 C1160.0 330.0 1160.0 333.3 1170.0 335.0" fill="none" stroke="#f8d19c" stroke-width="2.6" stroke-linecap="round" stroke-linejoin="round" />
<path d="M1060.0 330.0 C1060.7 340.0 1057.0 341.7 1062.0 360.0 C1067.0 378.3 1069.7 368.3 1075.0 385.0 C1080.3 401.7 1077.0 401.7 1078.0 410.0" fill="none" stroke="#f8d19c" stroke-width="2.6" stroke-linecap="round" stroke-linejoin="round" />
<path d="M1085.0 320.0 C1083.3 330.0 1076.7 332.7 1080.0 350.0 C1083.3 367.3 1090.0 364.7 1095.0 372.0" fill="none" stroke="#f8d19c" stroke-width="2.6" stroke-linecap="round" stroke-linejoin="round" />
<path d="M1110.0 230.0 C1113.3 240.0 1119.3 236.7 1120.0 260.0 C1120.7 283.3 1115.3 275.0 1112.0 300.0 C1108.7 325.0 1110.7 323.3 1110.0 335.0" fill="none" stroke="#f8d19c" stroke-width="2.6" stroke-linecap="round" stroke-linejoin="round" />
<path d="M1140.0 300.0 C1143.3 310.0 1143.3 310.0 1150.0 330.0 C1156.7 350.0 1150.0 346.0 1160.0 360.0 C1170.0 374.0 1173.3 368.0 1180.0 372.0" fill="none" stroke="#f8d19c" stroke-width="2.6" stroke-linecap="round" stroke-linejoin="round" />
<path d="M1051.0 345.0 C1059.0 343.3 1055.3 343.3 1075.0 340.0 C1094.7 336.7 1098.3 336.7 1110.0 335.0" fill="none" stroke="#f8d19c" stroke-width="2.6" stroke-linecap="round" stroke-linejoin="round" />
<path d="M1200.0 300.0 C1210.0 303.3 1210.0 308.3 1230.0 310.0 C1250.0 311.7 1241.7 305.0 1260.0 305.0 C1278.3 305.0 1276.7 308.3 1285.0 310.0" fill="none" stroke="#f8d19c" stroke-width="2.6" stroke-linecap="round" stroke-linejoin="round" />
<path d="M1180.0 215.0 C1191.7 223.3 1194.0 235.0 1215.0 240.0 C1236.0 245.0 1233.7 233.3 1243.0 230.0" fill="none" stroke="#f8d19c" stroke-width="2.6" stroke-linecap="round" stroke-linejoin="round" />
<path d="M1123.5 160.0 C1121.8 164.8 1125.9 163.8 1118.4 174.5 C1110.9 185.2 1113.6 181.8 1101.0 192.0 C1088.4 202.2 1093.7 194.9 1080.6 205.0 C1067.5 215.1 1072.4 210.3 1061.8 222.4 C1051.2 234.5 1053.1 235.0 1048.7 241.3" fill="none" stroke="#f8d19c" stroke-width="2.6" stroke-linecap="round" stroke-linejoin="round" />
<path d="M1053.0 191.2 C1063.2 194.8 1066.5 195.5 1083.5 202.0 C1100.5 208.5 1088.4 205.5 1103.9 210.8 C1119.4 216.1 1121.3 215.6 1130.0 218.0" fill="none" stroke="#f8d19c" stroke-width="2.6" stroke-linecap="round" stroke-linejoin="round" />
<path d="M1069.0 235.5 C1072.3 232.3 1069.3 226.0 1079.0 226.0 C1088.7 226.0 1089.3 228.5 1098.0 235.5 C1106.7 242.5 1102.7 243.2 1105.0 247.0" fill="none" stroke="#f8d19c" stroke-width="2.6" stroke-linecap="round" stroke-linejoin="round" />
<path d="M1040.0 317.7 C1044.8 316.7 1044.8 311.4 1054.5 314.8 C1064.2 318.2 1064.2 323.6 1069.0 328.0" fill="none" stroke="#f8d19c" stroke-width="2.6" stroke-linecap="round" stroke-linejoin="round" />
<path d="M1054.5 332.0 C1065.7 332.3 1065.8 333.0 1088.0 333.0 C1110.2 333.0 1103.1 331.8 1121.0 332.0 C1138.9 332.2 1125.1 337.0 1141.6 333.7 C1158.1 330.4 1156.1 327.3 1170.6 322.0 C1185.1 316.7 1180.2 319.1 1185.0 317.7" fill="none" stroke="#f8d19c" stroke-width="2.6" stroke-linecap="round" stroke-linejoin="round" />
<path d="M1088.0 301.8 C1085.0 310.5 1083.9 306.3 1079.0 328.0 C1074.1 349.7 1075.3 354.0 1073.4 367.0" fill="none" stroke="#f8d19c" stroke-width="2.6" stroke-linecap="round" stroke-linejoin="round" />
<path d="M1044.0 301.8 C1046.5 311.5 1046.6 311.0 1051.6 330.8 C1056.6 350.6 1056.5 351.1 1058.9 361.3" fill="none" stroke="#f8d19c" stroke-width="2.6" stroke-linecap="round" stroke-linejoin="round" />
<path d="M1057.4 348.2 L1083.5 335.0" fill="none" stroke="#f8d19c" stroke-width="2.6" stroke-linecap="round" stroke-linejoin="round" />
<path d="M1109.7 335.0 C1102.5 342.8 1101.6 346.7 1088.0 358.4 C1074.4 370.1 1075.3 366.1 1069.0 370.0" fill="none" stroke="#f8d19c" stroke-width="2.6" stroke-linecap="round" stroke-linejoin="round" />
<path d="M1153.0 298.9 C1156.5 311.9 1157.5 319.1 1163.4 338.0 C1169.3 356.9 1168.2 349.7 1170.6 355.5" fill="none" stroke="#f8d19c" stroke-width="2.6" stroke-linecap="round" stroke-linejoin="round" />
<path d="M1069.0 370.0 C1072.7 378.3 1069.7 385.0 1080.0 395.0 C1090.3 405.0 1093.3 398.3 1100.0 400.0" fill="none" stroke="#f8d19c" stroke-width="2.6" stroke-linecap="round" stroke-linejoin="round" />
<path d="M1051.0 275.0 C1059.0 278.3 1062.7 276.1 1075.0 285.0 C1087.3 293.9 1083.7 296.2 1088.0 301.8" fill="none" stroke="#f8d19c" stroke-width="2.6" stroke-linecap="round" stroke-linejoin="round" />
<path d="M1330.6 207.3 L1372.7 230.5" fill="none" stroke="#f8d19c" stroke-width="2.6" stroke-linecap="round" stroke-linejoin="round" />
<path d="M1243.5 207.3 C1243.0 217.0 1246.8 220.4 1242.0 236.3 C1237.2 252.2 1235.3 241.0 1229.0 255.0 C1222.7 269.0 1225.0 270.6 1223.0 278.4" fill="none" stroke="#f8d19c" stroke-width="2.6" stroke-linecap="round" stroke-linejoin="round" />
<path d="M1201.0 269.7 C1215.2 273.1 1214.8 274.0 1243.5 279.8 C1272.2 285.6 1272.5 284.6 1287.0 287.0" fill="none" stroke="#f8d19c" stroke-width="2.6" stroke-linecap="round" stroke-linejoin="round" />
<path d="M1372.7 249.4 C1358.7 250.8 1350.5 246.0 1330.6 253.7 C1310.7 261.4 1318.9 266.3 1313.0 272.6" fill="none" stroke="#f8d19c" stroke-width="2.6" stroke-linecap="round" stroke-linejoin="round" />
<path d="M1130.0 395.0 C1136.7 390.0 1135.0 386.7 1150.0 380.0 C1165.0 373.3 1166.7 376.7 1175.0 375.0" fill="none" stroke="#f8d19c" stroke-width="2.6" stroke-linecap="round" stroke-linejoin="round" />
<path d="M1214.5 296.6 L1258 328.5 L1281.3 346 L1301.6 369" fill="none" stroke="#f0c094" stroke-width="2.2" stroke-dasharray="7 4"/>
<path d="M920.3 29.0 C921.9 52.0 924.2 65.6 925.0 97.9 C925.8 130.2 924.3 102.5 922.7 125.8 C921.1 149.1 922.3 152.1 920.3 167.8 C918.3 183.5 917.6 159.9 916.8 173.0 C916.0 186.1 919.2 184.0 918.0 207.0 C916.8 230.0 915.6 218.6 913.3 241.9 C911.0 265.2 912.1 252.1 911.0 276.8 C909.9 301.5 910.0 290.6 909.9 316.0 C909.8 341.4 909.5 329.7 910.6 353.0 C911.7 376.3 913.2 350.3 913.3 386.0 C913.4 421.7 911.8 430.7 911.0 460.0 C910.2 489.3 908.7 463.1 911.0 474.0 C913.3 484.9 913.3 483.3 918.0 492.6 C922.7 501.9 922.7 498.9 925.0 502.0" fill="none" stroke="#f3a48e" stroke-width="3.0" stroke-linecap="round" stroke-linejoin="round" />
<path d="M764.3 195.3 C779.0 194.9 774.3 192.1 808.5 194.0 C842.7 195.9 829.5 196.8 866.8 201.0 C904.1 205.2 889.2 203.4 920.3 206.5 C951.4 209.6 939.1 208.7 960.0 210.4 C980.9 212.1 963.7 215.1 983.0 211.6 C1002.3 208.1 995.3 207.0 1018.0 200.0 C1040.7 193.0 1040.0 193.7 1051.0 190.6" fill="none" stroke="#f3a48e" stroke-width="3.0" stroke-linecap="round" stroke-linejoin="round" />
<path d="M732.0 366.0 C761.3 364.0 761.1 364.3 820.0 360.0 C878.9 355.7 879.1 355.3 908.7 353.0" fill="none" stroke="#f3a48e" stroke-width="3.0" stroke-linecap="round" stroke-linejoin="round" />
<path d="M1051.0 412.7 C1043.9 414.6 1046.6 410.4 1029.8 418.5 C1013.0 426.6 1022.4 423.2 1000.7 437.0 C979.0 450.8 992.2 441.1 964.6 460.0 C937.0 478.9 950.6 465.1 918.0 493.8 C885.4 522.5 888.5 523.9 866.8 546.0 C845.1 568.1 865.2 546.7 852.8 560.0 C840.4 573.3 841.9 574.3 829.5 585.8 C817.1 597.3 827.2 591.9 815.5 594.6 C803.8 597.3 813.0 593.2 794.5 594.0 C776.0 594.8 782.2 595.1 760.0 597.0 C737.8 598.9 738.7 598.9 728.0 599.8" fill="none" stroke="#f3a48e" stroke-width="3.0" stroke-linecap="round" stroke-linejoin="round" />
<path d="M920.0 173.0 C930.2 173.4 933.4 170.0 950.6 174.3 C967.8 178.6 958.5 177.1 971.6 186.0 C984.7 194.9 974.5 196.7 990.0 201.0 C1005.5 205.3 1001.3 202.1 1018.0 198.8 C1034.7 195.5 1023.0 197.8 1040.0 191.2 C1057.0 184.6 1049.7 186.4 1069.0 178.9 C1088.3 171.4 1083.5 175.0 1098.0 168.7 C1112.5 162.4 1101.4 169.6 1112.6 160.0 C1123.8 150.4 1117.4 150.8 1131.5 139.8 C1145.6 128.8 1138.5 131.3 1154.8 127.0 C1171.1 122.7 1166.4 125.4 1180.4 127.0 C1194.4 128.6 1191.3 130.1 1196.7 131.7" fill="none" stroke="#e27590" stroke-width="2.7" stroke-linecap="round" stroke-linejoin="round" />
<path d="M1034.5 195.3 C1036.3 197.1 1032.4 191.6 1040.0 200.6 C1047.6 209.6 1045.3 207.4 1057.4 222.4 C1069.5 237.4 1068.1 232.4 1076.3 245.6 C1084.5 258.8 1080.1 256.5 1082.0 262.0" fill="none" stroke="#e27590" stroke-width="2.7" stroke-linecap="round" stroke-linejoin="round" />
<path d="M1164.0 29.0 C1163.3 36.4 1161.8 36.1 1161.8 51.3 C1161.8 66.5 1157.8 56.7 1164.0 74.6 C1170.2 92.5 1170.3 87.8 1180.4 104.9 C1190.5 122.0 1188.2 115.8 1194.4 125.8 C1200.6 135.8 1196.1 123.6 1199.0 135.0 C1201.9 146.4 1204.0 141.7 1203.0 160.0 C1202.0 178.3 1198.3 180.0 1196.0 190.0" fill="none" stroke="#e27590" stroke-width="2.7" stroke-linecap="round" stroke-linejoin="round" />
<path d="M1243.3 29.0 C1237.9 39.5 1237.1 41.5 1227.0 60.6 C1216.9 79.7 1217.7 66.0 1213.0 86.2 C1208.3 106.4 1211.4 92.6 1213.0 121.2 C1214.6 149.8 1214.7 145.7 1217.7 172.0 C1220.7 198.3 1222.9 180.7 1222.0 200.0 C1221.1 219.3 1217.3 220.0 1215.0 230.0" fill="none" stroke="#e27590" stroke-width="2.7" stroke-linecap="round" stroke-linejoin="round" />
<path d="M1313.0 29.0 C1303.0 38.8 1297.7 40.8 1283.0 58.3 C1268.3 75.8 1273.7 73.8 1269.0 81.6" fill="none" stroke="#e27590" stroke-width="2.7" stroke-linecap="round" stroke-linejoin="round" />
<path d="M1325.0 35.0 C1315.3 44.0 1311.0 45.7 1296.0 62.0 C1281.0 78.3 1285.3 76.7 1280.0 84.0" fill="none" stroke="#e27590" stroke-width="2.7" stroke-linecap="round" stroke-linejoin="round" />
<path d="M1374.0 72.0 C1369.3 80.6 1367.6 83.1 1359.8 97.9 C1352.0 112.7 1357.8 102.5 1350.5 116.5 C1343.2 130.5 1345.0 126.0 1338.0 140.0 C1331.0 154.0 1336.2 143.4 1329.5 158.4 C1322.8 173.4 1323.5 169.6 1318.0 185.0 C1312.5 200.4 1317.0 189.6 1313.0 204.6 C1309.0 219.6 1314.5 215.2 1306.0 230.0 C1297.5 244.8 1292.9 237.2 1287.6 248.9 C1282.3 260.6 1284.5 253.4 1290.0 265.0 C1295.5 276.6 1298.7 266.8 1304.0 283.8 C1309.3 300.8 1304.9 301.4 1306.0 316.0 C1307.1 330.6 1311.2 315.3 1307.4 327.6 C1303.6 339.9 1304.4 338.2 1294.6 353.0 C1284.8 367.8 1283.5 365.7 1278.0 372.0" fill="none" stroke="#e27590" stroke-width="2.7" stroke-linecap="round" stroke-linejoin="round" />
<path d="M1201.0 264.0 C1216.7 263.2 1223.8 260.5 1248.0 261.7 C1272.2 262.9 1254.3 263.2 1273.6 267.5 C1292.9 271.8 1283.5 266.7 1306.0 274.5 C1328.5 282.3 1318.3 286.1 1341.0 290.8 C1363.7 295.5 1363.0 289.3 1374.0 288.5" fill="none" stroke="#e27590" stroke-width="2.7" stroke-linecap="round" stroke-linejoin="round" />
<path d="M1213.0 344.0 C1219.2 346.3 1216.2 347.1 1231.7 351.0 C1247.2 354.9 1244.2 348.6 1259.6 355.6 C1275.0 362.6 1271.9 366.5 1278.0 372.0" fill="none" stroke="#e27590" stroke-width="2.7" stroke-linecap="round" stroke-linejoin="round" />
<path d="M1339.0 434.8 L1374.0 443.0" fill="none" stroke="#e27590" stroke-width="2.7" stroke-linecap="round" stroke-linejoin="round" />
<path d="M1051.0 411.5 C1055.3 416.9 1048.8 420.0 1064.0 427.8 C1079.2 435.6 1074.9 430.9 1096.6 434.8 C1118.3 438.7 1118.2 437.9 1129.0 439.5" fill="none" stroke="#e27590" stroke-width="2.7" stroke-linecap="round" stroke-linejoin="round" />
<path d="M1180.0 372.0 C1185.0 367.3 1185.7 366.7 1195.0 358.0 C1204.3 349.3 1202.0 350.7 1208.0 346.0 C1214.0 341.3 1211.3 344.7 1213.0 344.0" fill="none" stroke="#e27590" stroke-width="2.7" stroke-linecap="round" stroke-linejoin="round" />
<path d="M942.5 523.0 C976.3 524.5 1008.0 523.3 1043.8 527.5 C1079.6 531.7 1036.3 532.2 1050.0 535.7 C1063.7 539.2 1061.7 538.0 1085.0 538.0 C1108.3 538.0 1100.7 540.0 1120.0 535.7 C1139.3 531.4 1116.7 536.6 1143.0 525.0 C1169.3 513.4 1175.7 508.9 1199.0 500.8 C1222.3 492.7 1196.7 496.9 1213.0 500.8 C1229.3 504.7 1230.1 507.3 1248.0 512.4 C1265.9 517.5 1253.4 511.8 1266.6 516.0 C1279.8 520.2 1270.5 517.3 1287.6 525.0 C1304.7 532.7 1300.2 528.1 1318.0 539.0 C1335.8 549.9 1329.4 547.6 1341.0 557.8 C1352.6 568.0 1341.8 563.8 1352.8 569.5 C1363.8 575.2 1366.9 573.2 1374.0 575.0" fill="none" stroke="#e27590" stroke-width="2.7" stroke-linecap="round" stroke-linejoin="round" />
<path d="M1199.0 500.8 C1197.5 498.5 1200.6 498.9 1194.4 493.8 C1188.2 488.7 1185.1 488.3 1180.4 485.6" fill="none" stroke="#e27590" stroke-width="2.7" stroke-linecap="round" stroke-linejoin="round" />
<path d="M1051.0 260.0 C1060.7 260.0 1063.7 256.7 1080.0 260.0 C1096.3 263.3 1080.0 268.3 1100.0 270.0 C1120.0 271.7 1126.7 266.7 1140.0 265.0" fill="none" stroke="#e27590" stroke-width="2.7" stroke-linecap="round" stroke-linejoin="round" />
<path d="M1100.0 270.0 C1101.7 280.0 1098.3 283.3 1105.0 300.0 C1111.7 316.7 1110.0 305.0 1120.0 320.0 C1130.0 335.0 1132.3 327.7 1135.0 345.0 C1137.7 362.3 1130.3 363.0 1128.0 372.0" fill="none" stroke="#e27590" stroke-width="2.7" stroke-linecap="round" stroke-linejoin="round" />
<path d="M1215.0 230.0 C1211.7 238.3 1209.7 243.7 1205.0 255.0 C1200.3 266.3 1202.3 261.0 1201.0 264.0" fill="none" stroke="#e27590" stroke-width="2.7" stroke-linecap="round" stroke-linejoin="round" />
<path d="M1141.6 171.6 L1153.0 174.5" fill="none" stroke="#e27590" stroke-width="2.7" stroke-linecap="round" stroke-linejoin="round" />
<path d="M1188.0 161.5 C1183.7 169.3 1183.2 171.5 1175.0 185.0 C1166.8 198.5 1167.3 196.3 1163.4 202.0" fill="none" stroke="#e27590" stroke-width="2.7" stroke-linecap="round" stroke-linejoin="round" />
<path d="M1135.8 294.5 C1134.8 304.2 1132.9 309.0 1132.9 323.5 C1132.9 338.0 1135.3 322.5 1135.8 338.0 C1136.3 353.5 1134.8 359.3 1134.3 370.0" fill="none" stroke="#e27590" stroke-width="2.7" stroke-linecap="round" stroke-linejoin="round" />
<path d="M1240.0 349.7 C1235.3 350.7 1235.4 355.0 1225.8 352.6 C1216.2 350.2 1222.4 339.5 1211.3 342.4 C1200.2 345.3 1198.7 355.0 1192.4 361.3" fill="none" stroke="#e27590" stroke-width="2.7" stroke-linecap="round" stroke-linejoin="round" />
<path d="M1313.0 205.8 C1312.0 212.5 1314.8 214.4 1310.0 226.0 C1305.2 237.6 1305.4 230.9 1298.7 240.6 C1292.0 250.3 1292.9 250.2 1290.0 255.0" fill="none" stroke="#e27590" stroke-width="2.7" stroke-linecap="round" stroke-linejoin="round" />
<circle cx="917.5" cy="171" r="3.3" fill="none" stroke="#e27590" stroke-width="1.6"/>
<circle cx="918" cy="493" r="3" fill="none" stroke="#f3a48e" stroke-width="1.5"/>
<circle cx="1155" cy="512" r="2.4" fill="none" stroke="#e27590" stroke-width="1.5"/>
<circle cx="1145" cy="525.5" r="2.8" fill="#e27590"/>
<path d="M1284 32 h10 M1289 28 v9 M1286 38 h6" stroke="#8461c4" stroke-width="1.6" fill="none"/>
<path d="M1279 136 l5 -10 l5 10z" fill="#c77d3e"/>
<rect x="915.0" y="100.0" width="20" height="22.5" rx="2.5" fill="#f6d0c4" stroke="#dba996" stroke-width="1"/>
<text x="925.0" y="116.1" font-size="13.6" fill="#7a4a3c" stroke="#7a4a3c" stroke-width=".3" class="sh" text-anchor="middle">9</text>
<rect x="729.0" y="185.6" width="35" height="22.5" rx="2.5" fill="#f6d0c4" stroke="#dba996" stroke-width="1"/>
<text x="746.5" y="201.7" font-size="13.6" fill="#7a4a3c" stroke="#7a4a3c" stroke-width=".3" class="sh" text-anchor="middle">338</text>
<rect x="923.3" y="196.5" width="36" height="23" rx="2.5" fill="#f6d0c4" stroke="#dba996" stroke-width="1"/>
<text x="941.3" y="212.9" font-size="13.6" fill="#7a4a3c" stroke="#7a4a3c" stroke-width=".3" class="sh" text-anchor="middle">338</text>
<rect x="901.5" y="276.5" width="20" height="23" rx="2.5" fill="#f6d0c4" stroke="#dba996" stroke-width="1"/>
<text x="911.5" y="292.9" font-size="13.6" fill="#7a4a3c" stroke="#7a4a3c" stroke-width=".3" class="sh" text-anchor="middle">9</text>
<rect x="902.7" y="356.9" width="20" height="23" rx="2.5" fill="#f6d0c4" stroke="#dba996" stroke-width="1"/>
<text x="912.7" y="373.3" font-size="13.6" fill="#7a4a3c" stroke="#7a4a3c" stroke-width=".3" class="sh" text-anchor="middle">9</text>
<rect x="1000.5" y="417.2" width="29" height="22.5" rx="2.5" fill="#f6d0c4" stroke="#dba996" stroke-width="1"/>
<text x="1015.0" y="433.4" font-size="13.6" fill="#7a4a3c" stroke="#7a4a3c" stroke-width=".3" class="sh" text-anchor="middle">35</text>
<rect x="826.7" y="562.2" width="28" height="23" rx="2.5" fill="#f6d0c4" stroke="#dba996" stroke-width="1"/>
<text x="840.7" y="578.6" font-size="13.6" fill="#7a4a3c" stroke="#7a4a3c" stroke-width=".3" class="sh" text-anchor="middle">35</text>
<rect x="921.5" y="501.5" width="20" height="23" rx="2.5" fill="#f6d0c4" stroke="#dba996" stroke-width="1"/>
<text x="931.5" y="517.9" font-size="13.6" fill="#7a4a3c" stroke="#7a4a3c" stroke-width=".3" class="sh" text-anchor="middle">9</text>
<rect x="1042.5" y="519.5" width="21" height="23" rx="2.5" fill="#f1c5cc" stroke="#dba0aa" stroke-width="1"/>
<text x="1053.0" y="535.9" font-size="13.6" fill="#7a3a4c" stroke="#7a3a4c" stroke-width=".3" class="sh" text-anchor="middle">9</text>
<rect x="1120.8" y="520.2" width="20" height="23" rx="2.5" fill="#f1c5cc" stroke="#dba0aa" stroke-width="1"/>
<text x="1130.8" y="536.6" font-size="13.6" fill="#7a3a4c" stroke="#7a3a4c" stroke-width=".3" class="sh" text-anchor="middle">9</text>
<rect x="1267.0" y="500.2" width="20" height="23" rx="2.5" fill="#f8e6c4" stroke="#e0c89a" stroke-width="1"/>
<text x="1277.0" y="516.6" font-size="13.6" fill="#7a5a3c" stroke="#7a5a3c" stroke-width=".3" class="sh" text-anchor="middle">3</text>
<rect x="1314.1" y="424.3" width="25" height="21" rx="2.5" fill="#f3d4cb" stroke="#e0b4aa" stroke-width="1"/>
<text x="1326.6" y="439.7" font-size="13.6" fill="#8a5a50" stroke="#8a5a50" stroke-width=".3" class="sh" text-anchor="middle">34</text>
<rect x="1113.8" y="443.8" width="37" height="21" rx="2.5" fill="#f8e8cc" stroke="#e4d0a8" stroke-width="1"/>
<text x="1132.3" y="459.2" font-size="13.6" fill="#7a5a3c" stroke="#7a5a3c" stroke-width=".3" class="sh" text-anchor="middle">303</text>
<rect x="1343.5" y="117.0" width="35" height="20" rx="2.5" fill="#f6e8c8" stroke="#e0cfa4" stroke-width="1"/>
<text x="1361.0" y="131.9" font-size="13.5" fill="#7a5a3c" stroke="#7a5a3c" stroke-width=".3" class="sh" text-anchor="middle">351</text>
<rect x="981.5" y="331.0" width="71" height="23" rx="2.5" fill="#f7e7cb" stroke="#e2cda5" stroke-width="1"/>
<text x="989.9" y="346.8" font-size="13" fill="#7a5a3c" class="sh" text-anchor="start" textLength="16.2" lengthAdjust="spacingAndGlyphs">นบ</text>
<text x="1007.9" y="346.8" font-size="13" fill="#7a5a3c" class="sh" text-anchor="start">.3021</text>
<text x="1097" y="51" font-size="15" fill="#555" class="rl" textLength="57" lengthAdjust="spacingAndGlyphs" stroke="#f4f2ee" stroke-width="1.6" paint-order="stroke">นนทบุรี</text>
<text x="1029.9" y="84.5" font-size="12" fill="#444" class="rl" textLength="68.5" lengthAdjust="spacingAndGlyphs" stroke="#f4f2ee" stroke-width="1.6" paint-order="stroke">บางศรีเมือง</text>
<text x="1020.9" y="167.5" font-size="12.5" fill="#444" class="rl" textLength="56" lengthAdjust="spacingAndGlyphs" stroke="#f4f2ee" stroke-width="1.6" paint-order="stroke">บางกรวย</text>
<text x="1016.4" y="272.5" font-size="16" fill="#4a4a4a" class="rl" textLength="132.8" lengthAdjust="spacingAndGlyphs" stroke="#f4f2ee" stroke-width="1.6" paint-order="stroke">กรุงเทพมหานคร</text>
<g opacity="0.92"><text x="1144.7" y="75.8" font-size="12" fill="#cf5468" class="rl" textLength="39.9" lengthAdjust="spacingAndGlyphs" stroke="#f6f2ee" stroke-width="1.2" paint-order="stroke">น.2-09</text></g>
<g opacity="0.92"><text x="1147.9" y="92" font-size="12" fill="#cf5468" class="rl" textLength="39.1" lengthAdjust="spacingAndGlyphs" stroke="#f6f2ee" stroke-width="1.2" paint-order="stroke">ค.2-07</text></g>
<g opacity="0.92"><text x="1166.2" y="120.7" font-size="12" fill="#cf5468" class="rl" textLength="39.8" lengthAdjust="spacingAndGlyphs" stroke="#f6f2ee" stroke-width="1.2" paint-order="stroke">น.2-08</text></g>
<g opacity="0.92"><text x="1346.2" y="92" font-size="12" fill="#cf5468" class="rl" textLength="32.8" lengthAdjust="spacingAndGlyphs" stroke="#f6f2ee" stroke-width="1.2" paint-order="stroke">น.3-0</text></g>
<g opacity="0.92"><text x="1172.7" y="160.8" font-size="12" fill="#cf5468" class="rl" textLength="38.3" lengthAdjust="spacingAndGlyphs" stroke="#f6f2ee" stroke-width="1.2" paint-order="stroke">น.1-01</text></g>
<g opacity="0.92"><text x="1275.2" y="251" font-size="12" fill="#cf5468" class="rl" textLength="38.0" lengthAdjust="spacingAndGlyphs" stroke="#f6f2ee" stroke-width="1.2" paint-order="stroke">ค.3-02</text></g>
<g opacity="0.92"><text x="1274.4" y="271.4" font-size="12" fill="#cf5468" class="rl" textLength="38.8" lengthAdjust="spacingAndGlyphs" stroke="#f6f2ee" stroke-width="1.2" paint-order="stroke">น.3-02</text></g>
<g opacity="0.92"><text x="1289.7" y="288.8" font-size="12" fill="#cf5468" class="rl" textLength="38.0" lengthAdjust="spacingAndGlyphs" stroke="#f6f2ee" stroke-width="1.2" paint-order="stroke">ค.3-03</text></g>
<g opacity="0.92"><text x="1285.7" y="309.4" font-size="12" fill="#cf5468" class="rl" textLength="38.8" lengthAdjust="spacingAndGlyphs" stroke="#f6f2ee" stroke-width="1.2" paint-order="stroke">น.3-01</text></g>
<g opacity="0.92"><text x="1202.2" y="267.5" font-size="12" fill="#cf5468" class="rl" textLength="37.8" lengthAdjust="spacingAndGlyphs" stroke="#f6f2ee" stroke-width="1.2" paint-order="stroke">ด.2-02</text></g>
<g opacity="0.92"><text x="1178.3" y="290.9" font-size="12" fill="#cf5468" class="rl" textLength="38.7" lengthAdjust="spacingAndGlyphs" stroke="#f6f2ee" stroke-width="1.2" paint-order="stroke">น.1-02</text></g>
<g opacity="0.92"><text x="1181.2" y="311.2" font-size="12" fill="#cf5468" class="rl" textLength="38.8" lengthAdjust="spacingAndGlyphs" stroke="#f6f2ee" stroke-width="1.2" paint-order="stroke">ต.1-02</text></g>
<g opacity="0.92"><text x="1120.2" y="293" font-size="12" fill="#cf5468" class="rl" textLength="38.1" lengthAdjust="spacingAndGlyphs" stroke="#f6f2ee" stroke-width="1.2" paint-order="stroke">ค.2-10</text></g>
<g opacity="0.92"><text x="1114.4" y="311.2" font-size="12" fill="#cf5468" class="rl" textLength="38.8" lengthAdjust="spacingAndGlyphs" stroke="#f6f2ee" stroke-width="1.2" paint-order="stroke">น.2-03</text></g>
<g opacity="0.92"><text x="1149.2" y="233.7" font-size="12" fill="#cf5468" class="rl" textLength="42.8" lengthAdjust="spacingAndGlyphs" stroke="#f6f2ee" stroke-width="1.2" paint-order="stroke">ต.2-01</text></g>
<g opacity="0.92"><text x="1114.5" y="325.7" font-size="12" fill="#cf5468" class="rl" textLength="37.3" lengthAdjust="spacingAndGlyphs" stroke="#f6f2ee" stroke-width="1.2" paint-order="stroke">ค.2-11</text></g>
<g opacity="0.92"><text x="1118.8" y="348.2" font-size="12" fill="#cf5468" class="rl" textLength="38.8" lengthAdjust="spacingAndGlyphs" stroke="#f6f2ee" stroke-width="1.2" paint-order="stroke">ค.2-12</text></g>
<g opacity="0.92"><text x="1116.6" y="360.6" font-size="12" fill="#cf5468" class="rl" textLength="38.8" lengthAdjust="spacingAndGlyphs" stroke="#f6f2ee" stroke-width="1.2" paint-order="stroke">น.2-02</text></g>
<g opacity="0.92"><text x="1170.4" y="365" font-size="12" fill="#cf5468" class="rl" textLength="47.4" lengthAdjust="spacingAndGlyphs" stroke="#f6f2ee" stroke-width="1.2" paint-order="stroke">ตด.1-02</text></g>
<g opacity="0.92"><text x="1183.2" y="325.7" font-size="12" fill="#cf5468" class="rl" textLength="38.2" lengthAdjust="spacingAndGlyphs" stroke="#f6f2ee" stroke-width="1.2" paint-order="stroke">ค.1-03</text></g>
<g opacity="0.92"><text x="1182.4" y="339.5" font-size="12" fill="#cf5468" class="rl" textLength="38.6" lengthAdjust="spacingAndGlyphs" stroke="#f6f2ee" stroke-width="1.2" paint-order="stroke">น.1-01</text></g>
<g opacity="0.92"><text x="1274.8" y="354.4" font-size="12" fill="#cf5468" class="rl" textLength="38.9" lengthAdjust="spacingAndGlyphs" stroke="#f6f2ee" stroke-width="1.2" paint-order="stroke">ค.3-04</text></g>
<g opacity="0.92"><text x="1096.6" y="432" font-size="12" fill="#cf5468" class="rl" textLength="31.4" lengthAdjust="spacingAndGlyphs" stroke="#f6f2ee" stroke-width="1.2" paint-order="stroke">ค.1-0</text></g>
<g opacity="0.92"><text x="1125.2" y="385" font-size="12" fill="#cf5468" class="rl" textLength="37.8" lengthAdjust="spacingAndGlyphs" stroke="#f6f2ee" stroke-width="1.2" paint-order="stroke">ค.2-1</text></g>
</g>
<defs><filter id="bl" x="-30%" y="-50%" width="160%" height="200%"><feGaussianBlur stdDeviation="4"/></filter><filter id="bs" x="-30%" y="-50%" width="160%" height="200%"><feGaussianBlur stdDeviation="2.6"/></filter></defs>
<g filter="url(#bs)"><path d="M1114 154 L1122 146" stroke="#262626" stroke-width="5" opacity=".4"/><path d="M1115 148 L1121 135 L1152 135 L1146 148Z" fill="#262626" opacity=".4"/><path d="M1129 147 L1134 136 L1152 136 L1147 147Z" fill="#202020" opacity=".36"/></g>
<g filter="url(#bs)"><path d="M1251.7 128.1 L1259.7 120.1" stroke="#262626" stroke-width="5" opacity=".4"/><path d="M1252.7 122.1 L1258.7 109.1 L1289.7 109.1 L1283.7 122.1Z" fill="#262626" opacity=".4"/><path d="M1266.7 121.1 L1271.7 110.1 L1289.7 110.1 L1284.7 121.1Z" fill="#202020" opacity=".36"/></g>
<g filter="url(#bs)"><path d="M1202 172.8 L1210 164.8" stroke="#262626" stroke-width="5" opacity=".4"/><path d="M1203 166.8 L1209 153.8 L1240 153.8 L1234 166.8Z" fill="#262626" opacity=".4"/><path d="M1217 165.8 L1222 154.8 L1240 154.8 L1235 165.8Z" fill="#202020" opacity=".36"/></g>
<g filter="url(#bs)"><path d="M1291.8 184 L1299.8 176" stroke="#262626" stroke-width="5" opacity=".4"/><path d="M1292.8 178 L1298.8 165 L1329.8 165 L1323.8 178Z" fill="#262626" opacity=".4"/><path d="M1306.8 177 L1311.8 166 L1329.8 166 L1324.8 177Z" fill="#202020" opacity=".36"/></g>
<g filter="url(#bs)"><path d="M1176.5 209.6 L1184.5 201.6" stroke="#262626" stroke-width="5" opacity=".4"/><path d="M1177.5 203.6 L1183.5 190.6 L1214.5 190.6 L1208.5 203.6Z" fill="#262626" opacity=".4"/><path d="M1191.5 202.6 L1196.5 191.6 L1214.5 191.6 L1209.5 202.6Z" fill="#202020" opacity=".36"/></g>
<g filter="url(#bs)"><path d="M1237.7 220 L1245.7 212" stroke="#262626" stroke-width="5" opacity=".4"/><path d="M1238.7 214 L1244.7 201 L1275.7 201 L1269.7 214Z" fill="#262626" opacity=".4"/><path d="M1252.7 213 L1257.7 202 L1275.7 202 L1270.7 213Z" fill="#202020" opacity=".36"/></g>
<g filter="url(#bs)"><path d="M1159 244 L1167 236" stroke="#262626" stroke-width="5" opacity=".4"/><path d="M1160 238 L1166 225 L1197 225 L1191 238Z" fill="#262626" opacity=".4"/><path d="M1174 237 L1179 226 L1197 226 L1192 237Z" fill="#202020" opacity=".36"/></g>
<g filter="url(#bs)"><path d="M1200.2 246 L1208.2 238" stroke="#262626" stroke-width="5" opacity=".4"/><path d="M1201.2 240 L1207.2 227 L1238.2 227 L1232.2 240Z" fill="#262626" opacity=".4"/><path d="M1215.2 239 L1220.2 228 L1238.2 228 L1233.2 239Z" fill="#202020" opacity=".36"/></g>
<g filter="url(#bs)"><path d="M993.7 407 L1001.7 399" stroke="#262626" stroke-width="5" opacity=".4"/><path d="M994.7 401 L1000.7 388 L1031.7 388 L1025.7 401Z" fill="#262626" opacity=".4"/><path d="M1008.7 400 L1013.7 389 L1031.7 389 L1026.7 400Z" fill="#202020" opacity=".36"/></g>
<g filter="url(#bs)"><path d="M1195.8 357 L1203.8 349" stroke="#262626" stroke-width="5" opacity=".4"/><path d="M1196.8 351 L1202.8 338 L1233.8 338 L1227.8 351Z" fill="#262626" opacity=".4"/><path d="M1210.8 350 L1215.8 339 L1233.8 339 L1228.8 350Z" fill="#202020" opacity=".36"/></g>
<g filter="url(#bs)"><path d="M1300.6 585 L1308.6 577" stroke="#262626" stroke-width="5" opacity=".4"/><path d="M1301.6 579 L1307.6 566 L1338.6 566 L1332.6 579Z" fill="#262626" opacity=".4"/><path d="M1315.6 578 L1320.6 567 L1338.6 567 L1333.6 578Z" fill="#202020" opacity=".36"/></g>
<g filter="url(#bl)"><path d="M737 361 L752 348" stroke="#262626" stroke-width="9" opacity=".4"/><path d="M738 351 L749 329 L802 329 L791 351Z" fill="#262626" opacity=".4"/><path d="M762 349 L771 330 L802 330 L793 349Z" fill="#202020" opacity=".36"/></g>
<g filter="url(#bl)"><path d="M1166.3 470.4 L1181.3 457.4" stroke="#262626" stroke-width="9" opacity=".4"/><path d="M1167.3 460.4 L1178.3 438.4 L1231.3 438.4 L1220.3 460.4Z" fill="#262626" opacity=".4"/><path d="M1191.3 458.4 L1200.3 439.4 L1231.3 439.4 L1222.3 458.4Z" fill="#202020" opacity=".36"/></g>
<g filter="url(#bl)"><path d="M1189.4 446.6 L1204.4 433.6" stroke="#262626" stroke-width="9" opacity=".4"/><path d="M1190.4 436.6 L1201.4 414.6 L1254.4 414.6 L1243.4 436.6Z" fill="#262626" opacity=".4"/><path d="M1214.4 434.6 L1223.4 415.6 L1254.4 415.6 L1245.4 434.6Z" fill="#202020" opacity=".36"/></g>
<g filter="url(#bl)"><path d="M1331.5 230.4 L1346.5 217.4" stroke="#262626" stroke-width="9" opacity=".4"/><path d="M1332.5 220.4 L1343.5 198.4 L1396.5 198.4 L1385.5 220.4Z" fill="#262626" opacity=".4"/><path d="M1356.5 218.4 L1365.5 199.4 L1396.5 199.4 L1387.5 218.4Z" fill="#202020" opacity=".36"/></g>
<g filter="url(#bl)"><path d="M1374 206 L1389 193" stroke="#262626" stroke-width="9" opacity=".4"/><path d="M1375 196 L1386 174 L1439 174 L1428 196Z" fill="#262626" opacity=".4"/><path d="M1399 194 L1408 175 L1439 175 L1430 194Z" fill="#202020" opacity=".36"/></g>
<g filter="url(#bl)"><path d="M1314 442.4 L1329 429.4" stroke="#262626" stroke-width="9" opacity=".4"/><path d="M1315 432.4 L1326 410.4 L1379 410.4 L1368 432.4Z" fill="#262626" opacity=".4"/><path d="M1339 430.4 L1348 411.4 L1379 411.4 L1370 430.4Z" fill="#202020" opacity=".36"/></g>
<g filter="url(#bl)"><path d="M1175.7 311.4 L1190.7 298.4" stroke="#262626" stroke-width="9" opacity=".4"/><path d="M1176.7 301.4 L1187.7 279.4 L1240.7 279.4 L1229.7 301.4Z" fill="#262626" opacity=".4"/><path d="M1200.7 299.4 L1209.7 280.4 L1240.7 280.4 L1231.7 299.4Z" fill="#202020" opacity=".36"/></g>
<g filter="url(#bl)"><path d="M1114.4 436.6 L1129.4 423.6" stroke="#262626" stroke-width="9" opacity=".4"/><path d="M1115.4 426.6 L1126.4 404.6 L1179.4 404.6 L1168.4 426.6Z" fill="#262626" opacity=".4"/><path d="M1139.4 424.6 L1148.4 405.6 L1179.4 405.6 L1170.4 424.6Z" fill="#202020" opacity=".36"/></g>
<g filter="url(#bl)"><path d="M1076.4 316 L1091.4 303" stroke="#262626" stroke-width="9" opacity=".4"/><path d="M1077.4 306 L1088.4 284 L1141.4 284 L1130.4 306Z" fill="#262626" opacity=".4"/><path d="M1101.4 304 L1110.4 285 L1141.4 285 L1132.4 304Z" fill="#202020" opacity=".36"/></g>
<path d="M1111 138.5 V156" stroke="#222" stroke-width="4.2"/>
<circle cx="1111" cy="156" r="3.3" fill="#fff" stroke="#222" stroke-width="1"/>
<path d="M1111 138.5 V156" stroke="#fff" stroke-width="2.4"/>
<rect x="1093.8" y="116.5" width="34.5" height="23" rx="3.5" fill="#fff" stroke="#222" stroke-width="1.1"/>
<rect x="1095.5" y="118.3" width="30.9" height="19.4" rx="2.2" fill="#c2c2c2"/>
<rect x="1104.5" y="127.1" width="12.5" height="1.7" fill="#ececec"/>
<path d="M1248.7 112.2 V130.1" stroke="#222" stroke-width="4.2"/>
<circle cx="1248.7" cy="130.1" r="3.3" fill="#fff" stroke="#222" stroke-width="1"/>
<path d="M1248.7 112.2 V130.1" stroke="#fff" stroke-width="2.4"/>
<rect x="1231.5" y="90.2" width="34.5" height="23" rx="3.5" fill="#fff" stroke="#222" stroke-width="1.1"/>
<rect x="1233.2" y="92.0" width="30.9" height="19.4" rx="2.2" fill="#c2c2c2"/>
<rect x="1242.2" y="100.8" width="12.5" height="1.7" fill="#ececec"/>
<path d="M1199 157.6 V174.8" stroke="#222" stroke-width="4.2"/>
<circle cx="1199" cy="174.8" r="3.3" fill="#fff" stroke="#222" stroke-width="1"/>
<path d="M1199 157.6 V174.8" stroke="#fff" stroke-width="2.4"/>
<rect x="1181.8" y="135.6" width="34.5" height="23" rx="3.5" fill="#fff" stroke="#222" stroke-width="1.1"/>
<rect x="1183.5" y="137.4" width="30.9" height="19.4" rx="2.2" fill="#c2c2c2"/>
<rect x="1192.5" y="146.2" width="12.5" height="1.7" fill="#ececec"/>
<path d="M1288.8 168.3 V186" stroke="#222" stroke-width="4.2"/>
<circle cx="1288.8" cy="186" r="3.3" fill="#fff" stroke="#222" stroke-width="1"/>
<path d="M1288.8 168.3 V186" stroke="#fff" stroke-width="2.4"/>
<rect x="1271.5" y="146.3" width="34.5" height="23" rx="3.5" fill="#fff" stroke="#222" stroke-width="1.1"/>
<rect x="1273.3" y="148.1" width="30.9" height="19.4" rx="2.2" fill="#c2c2c2"/>
<rect x="1282.3" y="156.9" width="12.5" height="1.7" fill="#ececec"/>
<path d="M1173.5 193 V211.6" stroke="#222" stroke-width="4.2"/>
<circle cx="1173.5" cy="211.6" r="3.3" fill="#fff" stroke="#222" stroke-width="1"/>
<path d="M1173.5 193 V211.6" stroke="#fff" stroke-width="2.4"/>
<rect x="1156.2" y="171.0" width="34.5" height="23" rx="3.5" fill="#fff" stroke="#222" stroke-width="1.1"/>
<rect x="1158.0" y="172.8" width="30.9" height="19.4" rx="2.2" fill="#c2c2c2"/>
<rect x="1167.0" y="181.6" width="12.5" height="1.7" fill="#ececec"/>
<path d="M1234.7 203.8 V222" stroke="#222" stroke-width="4.2"/>
<circle cx="1234.7" cy="222" r="3.3" fill="#fff" stroke="#222" stroke-width="1"/>
<path d="M1234.7 203.8 V222" stroke="#fff" stroke-width="2.4"/>
<rect x="1217.5" y="181.8" width="34.5" height="23" rx="3.5" fill="#fff" stroke="#222" stroke-width="1.1"/>
<rect x="1219.2" y="183.6" width="30.9" height="19.4" rx="2.2" fill="#c2c2c2"/>
<rect x="1228.2" y="192.4" width="12.5" height="1.7" fill="#ececec"/>
<path d="M1156 226.6 V246" stroke="#222" stroke-width="4.2"/>
<circle cx="1156" cy="246" r="3.3" fill="#fff" stroke="#222" stroke-width="1"/>
<path d="M1156 226.6 V246" stroke="#fff" stroke-width="2.4"/>
<rect x="1138.8" y="204.6" width="34.5" height="23" rx="3.5" fill="#fff" stroke="#222" stroke-width="1.1"/>
<rect x="1140.5" y="206.4" width="30.9" height="19.4" rx="2.2" fill="#c2c2c2"/>
<rect x="1149.5" y="215.2" width="12.5" height="1.7" fill="#ececec"/>
<path d="M1197.2 229.6 V248" stroke="#222" stroke-width="4.2"/>
<circle cx="1197.2" cy="248" r="3.3" fill="#fff" stroke="#222" stroke-width="1"/>
<path d="M1197.2 229.6 V248" stroke="#fff" stroke-width="2.4"/>
<rect x="1180.0" y="207.6" width="34.5" height="23" rx="3.5" fill="#fff" stroke="#222" stroke-width="1.1"/>
<rect x="1181.8" y="209.4" width="30.9" height="19.4" rx="2.2" fill="#c2c2c2"/>
<rect x="1190.7" y="218.2" width="12.5" height="1.7" fill="#ececec"/>
<path d="M990.7 391 V409" stroke="#222" stroke-width="4.2"/>
<circle cx="990.7" cy="409" r="3.3" fill="#fff" stroke="#222" stroke-width="1"/>
<path d="M990.7 391 V409" stroke="#fff" stroke-width="2.4"/>
<rect x="973.5" y="369.0" width="34.5" height="23" rx="3.5" fill="#fff" stroke="#222" stroke-width="1.1"/>
<rect x="975.2" y="370.8" width="30.9" height="19.4" rx="2.2" fill="#c2c2c2"/>
<rect x="984.2" y="379.6" width="12.5" height="1.7" fill="#ececec"/>
<path d="M1192.8 341.5 V359" stroke="#222" stroke-width="4.2"/>
<circle cx="1192.8" cy="359" r="3.3" fill="#fff" stroke="#222" stroke-width="1"/>
<path d="M1192.8 341.5 V359" stroke="#fff" stroke-width="2.4"/>
<rect x="1175.5" y="319.5" width="34.5" height="23" rx="3.5" fill="#fff" stroke="#222" stroke-width="1.1"/>
<rect x="1177.3" y="321.3" width="30.9" height="19.4" rx="2.2" fill="#c2c2c2"/>
<rect x="1186.3" y="330.1" width="12.5" height="1.7" fill="#ececec"/>
<path d="M1297.6 569.8 V587" stroke="#222" stroke-width="4.2"/>
<circle cx="1297.6" cy="587" r="3.3" fill="#fff" stroke="#222" stroke-width="1"/>
<path d="M1297.6 569.8 V587" stroke="#fff" stroke-width="2.4"/>
<rect x="1280.3" y="547.8" width="34.5" height="23" rx="3.5" fill="#fff" stroke="#222" stroke-width="1.1"/>
<rect x="1282.1" y="549.6" width="30.9" height="19.4" rx="2.2" fill="#c2c2c2"/>
<rect x="1291.1" y="558.4" width="12.5" height="1.7" fill="#ececec"/>
<path d="M732 333.3 V365" stroke="#111" stroke-width="6.4"/>
<circle cx="732" cy="365" r="4.6" fill="#fff" stroke="#111" stroke-width="1.3"/>
<path d="M732 333.3 V365" stroke="#fff" stroke-width="4"/>
<rect x="710.0" y="292.3" width="53" height="42" rx="6" fill="#fff" stroke="#111" stroke-width="1.5"/>
<rect x="713.2" y="295.5" width="46.6" height="35.6" rx="3.5" fill="#ff9933"/>
<text transform="translate(736.2 322.9) scale(.9 1)" font-size="26.6" fill="#000" text-anchor="middle" class="mk">47</text>
<path d="M1161.3 444.4 V474.4" stroke="#111" stroke-width="6.4"/>
<circle cx="1161.3" cy="474.4" r="4.6" fill="#fff" stroke="#111" stroke-width="1.3"/>
<path d="M1161.3 444.4 V474.4" stroke="#fff" stroke-width="4"/>
<rect x="1129.8" y="403.4" width="63" height="42" rx="6" fill="#fff" stroke="#111" stroke-width="1.5"/>
<rect x="1133.0" y="406.6" width="56.6" height="35.6" rx="3.5" fill="#ff9933"/>
<text transform="translate(1161.0 434.0) scale(.9 1)" font-size="26.6" fill="#000" text-anchor="middle" class="mk">112</text>
<path d="M1184.4 418.7 V450.6" stroke="#111" stroke-width="6.4"/>
<circle cx="1184.4" cy="450.6" r="4.6" fill="#fff" stroke="#111" stroke-width="1.3"/>
<path d="M1184.4 418.7 V450.6" stroke="#fff" stroke-width="4"/>
<rect x="1152.9" y="377.7" width="63" height="42" rx="6" fill="#fff" stroke="#111" stroke-width="1.5"/>
<rect x="1156.1" y="380.9" width="56.6" height="35.6" rx="3.5" fill="#ff9933"/>
<text transform="translate(1184.1 408.3) scale(.9 1)" font-size="26.6" fill="#000" text-anchor="middle" class="mk">112</text>
<path d="M1326.5 203.6 V234.4" stroke="#111" stroke-width="6.4"/>
<circle cx="1326.5" cy="234.4" r="4.6" fill="#fff" stroke="#111" stroke-width="1.3"/>
<path d="M1326.5 203.6 V234.4" stroke="#fff" stroke-width="4"/>
<rect x="1295.0" y="162.6" width="63" height="42" rx="6" fill="#fff" stroke="#111" stroke-width="1.5"/>
<rect x="1298.2" y="165.8" width="56.6" height="35.6" rx="3.5" fill="#ff9933"/>
<text transform="translate(1326.2 193.2) scale(.9 1)" font-size="26.6" fill="#000" text-anchor="middle" class="mk">122</text>
<path d="M1369 178.5 V210" stroke="#111" stroke-width="6.4"/>
<circle cx="1369" cy="210" r="4.6" fill="#fff" stroke="#111" stroke-width="1.3"/>
<path d="M1369 178.5 V210" stroke="#fff" stroke-width="4"/>
<rect x="1337.5" y="137.5" width="63" height="42" rx="6" fill="#fff" stroke="#111" stroke-width="1.5"/>
<rect x="1340.7" y="140.7" width="56.6" height="35.6" rx="3.5" fill="#ff9933"/>
<text transform="translate(1368.7 168.1) scale(.9 1)" font-size="26.6" fill="#000" text-anchor="middle" class="mk">123</text>
<path d="M1309 414.8 V446.4" stroke="#111" stroke-width="6.4"/>
<circle cx="1309" cy="446.4" r="4.6" fill="#fff" stroke="#111" stroke-width="1.3"/>
<path d="M1309 414.8 V446.4" stroke="#fff" stroke-width="4"/>
<rect x="1277.5" y="373.8" width="63" height="42" rx="6" fill="#fff" stroke="#111" stroke-width="1.5"/>
<rect x="1280.7" y="377.0" width="56.6" height="35.6" rx="3.5" fill="#ff9933"/>
<text transform="translate(1308.7 404.4) scale(.9 1)" font-size="26.6" fill="#000" text-anchor="middle" class="mk">124</text>
<path d="M1170.7 283.4 V315.4" stroke="#111" stroke-width="6.4"/>
<circle cx="1170.7" cy="315.4" r="4.6" fill="#fff" stroke="#111" stroke-width="1.3"/>
<path d="M1170.7 283.4 V315.4" stroke="#fff" stroke-width="4"/>
<rect x="1139.2" y="242.4" width="63" height="42" rx="6" fill="#fff" stroke="#111" stroke-width="1.5"/>
<rect x="1142.4" y="245.6" width="56.6" height="35.6" rx="3.5" fill="#ff9933"/>
<text transform="translate(1170.4 273.0) scale(.9 1)" font-size="26.6" fill="#000" text-anchor="middle" class="mk">129</text>
<path d="M1109.4 408.7 V440.6" stroke="#111" stroke-width="6.4"/>
<circle cx="1109.4" cy="440.6" r="4.6" fill="#fff" stroke="#111" stroke-width="1.3"/>
<path d="M1109.4 408.7 V440.6" stroke="#fff" stroke-width="4"/>
<rect x="1077.9" y="367.7" width="63" height="42" rx="6" fill="#fff" stroke="#111" stroke-width="1.5"/>
<rect x="1081.1" y="370.9" width="56.6" height="35.6" rx="3.5" fill="#ff9933"/>
<text transform="translate(1109.1 398.3) scale(.9 1)" font-size="26.6" fill="#000" text-anchor="middle" class="mk">131</text>
<path d="M1071.4 288.3 V320" stroke="#111" stroke-width="6.4"/>
<circle cx="1071.4" cy="320" r="4.6" fill="#fff" stroke="#111" stroke-width="1.3"/>
<path d="M1071.4 288.3 V320" stroke="#fff" stroke-width="4"/>
<rect x="1039.9" y="247.3" width="63" height="42" rx="6" fill="#fff" stroke="#111" stroke-width="1.5"/>
<rect x="1043.1" y="250.5" width="56.6" height="35.6" rx="3.5" fill="#cc0033"/>
<text transform="translate(1071.1 277.9) scale(.9 1)" font-size="26.6" fill="#fff" text-anchor="middle" class="mk">151</text>
<defs><filter id="cs" x="-30%" y="-20%" width="160%" height="140%"><feGaussianBlur stdDeviation="2"/></filter></defs>
<rect x="741.5" y="43.5" width="37" height="72" rx="4.5" fill="#000" opacity=".45" filter="url(#cs)"/>
<rect x="741.5" y="43" width="37" height="72" rx="4.5" fill="#fff"/>
<path d="M742 78.3 H778" stroke="#ccc" stroke-width="1"/>
<path d="M754 60 H768.2 M761.1 52.9 V67.1 M754.4 97.2 H767" stroke="#000" stroke-width="2.8" fill="none"/>
<rect x="1323" y="43.5" width="36" height="35" rx="5.5" fill="#000" opacity=".4" filter="url(#cs)"/>
<rect x="1323" y="43" width="36" height="35" rx="5.5" fill="#fff"/>
<rect x="1334.7" y="50.3" width="20.3" height="12.6" rx="2.5" fill="#74c0ee"/>
<rect x="1327" y="56" width="23" height="14.7" rx="2.5" fill="#55a8dc"/>
<rect x="1108" y="580" width="267" height="24" fill="#fff" opacity=".72"/>
<text x="1114" y="595.3" font-size="14.45" class="rl" fill="#333"><tspan fill="#0078a8">Leaflet</tspan> | &#169; <tspan fill="#0078a8">OpenStreetMap</tspan> contributors</text>
<text x="744.5" y="601" font-size="12.4" class="rl" fill="#8c8c8c">adblock?</text></svg>
</div>
</body></html>
